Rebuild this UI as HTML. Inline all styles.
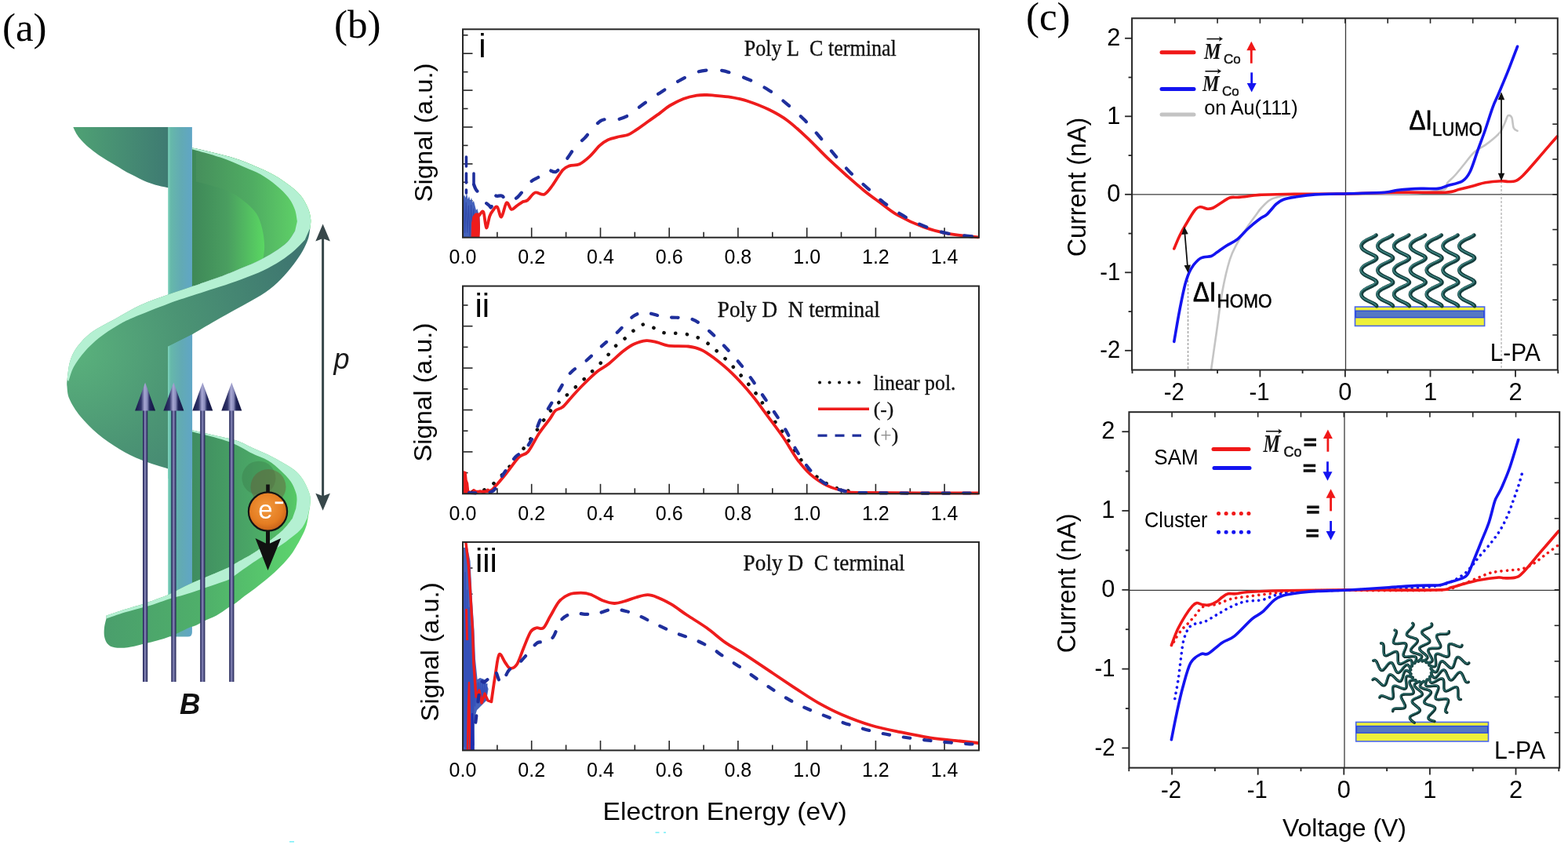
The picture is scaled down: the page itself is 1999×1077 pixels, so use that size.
<!DOCTYPE html><html><head><meta charset="utf-8"><title>Figure</title>
<style>html,body{margin:0;padding:0;background:#fff;}svg{display:block;}</style></head><body>
<svg width="1999" height="1077" viewBox="0 0 1999 1077">
<rect width="1999" height="1077" fill="#fff"/>
<defs>
<linearGradient id="gCap" x1="92" y1="0" x2="216" y2="0" gradientUnits="userSpaceOnUse">
  <stop offset="0" stop-color="#4fa274"/><stop offset="1" stop-color="#3e7a72"/></linearGradient>
<linearGradient id="gPole" x1="214" y1="0" x2="245" y2="0" gradientUnits="userSpaceOnUse">
  <stop offset="0" stop-color="#7cd4bc"/><stop offset="0.12" stop-color="#66b8aa"/>
  <stop offset="0.55" stop-color="#62aab4"/><stop offset="1" stop-color="#60a6c6"/></linearGradient>
<linearGradient id="gBowl1" x1="245" y1="0" x2="395" y2="0" gradientUnits="userSpaceOnUse">
  <stop offset="0" stop-color="#3e8858"/><stop offset="0.3" stop-color="#4a9e60"/>
  <stop offset="0.62" stop-color="#5ad862"/><stop offset="1" stop-color="#5ed466"/></linearGradient>
<linearGradient id="gBowl2" x1="245" y1="0" x2="395" y2="0" gradientUnits="userSpaceOnUse">
  <stop offset="0" stop-color="#3f8c60"/><stop offset="0.5" stop-color="#4aa666"/>
  <stop offset="0.85" stop-color="#55c466"/><stop offset="1" stop-color="#5cdc64"/></linearGradient>
<radialGradient id="gFront1" cx="95" cy="445" r="305" gradientUnits="userSpaceOnUse">
  <stop offset="0" stop-color="#5ab27c"/><stop offset="0.45" stop-color="#4b9474"/>
  <stop offset="1" stop-color="#3e7670"/></radialGradient>
<linearGradient id="gBowl1b" x1="250" y1="0" x2="392" y2="0" gradientUnits="userSpaceOnUse">
  <stop offset="0" stop-color="#468f5c"/><stop offset="0.5" stop-color="#4fac62"/><stop offset="1" stop-color="#62d868"/></linearGradient>
<linearGradient id="gLeft" x1="85" y1="440" x2="215" y2="600" gradientUnits="userSpaceOnUse">
  <stop offset="0" stop-color="#56ae78"/><stop offset="0.6" stop-color="#4a9272"/>
  <stop offset="1" stop-color="#3e7870"/></linearGradient>
<linearGradient id="gFront2" x1="130" y1="0" x2="395" y2="0" gradientUnits="userSpaceOnUse">
  <stop offset="0" stop-color="#4a9e6c"/><stop offset="0.5" stop-color="#4fb06a"/>
  <stop offset="1" stop-color="#5ed86e"/></linearGradient>
<radialGradient id="gE" cx="0.45" cy="0.4" r="0.6">
  <stop offset="0" stop-color="#f29a3e"/><stop offset="0.7" stop-color="#e57d22"/><stop offset="1" stop-color="#c8621a"/></radialGradient>
<linearGradient id="gB" x1="0" y1="0" x2="1" y2="0">
  <stop offset="0" stop-color="#1e1f50"/><stop offset="0.25" stop-color="#4a4c80"/><stop offset="0.45" stop-color="#8c8cbc"/>
  <stop offset="0.7" stop-color="#5a5c8e"/><stop offset="1" stop-color="#161846"/></linearGradient>
<linearGradient id="gBh" x1="0" y1="0" x2="1" y2="0">
  <stop offset="0" stop-color="#161848"/><stop offset="0.3" stop-color="#30346a"/><stop offset="0.47" stop-color="#a6a6d2"/>
  <stop offset="0.6" stop-color="#8a8cbc"/><stop offset="0.72" stop-color="#22265c"/><stop offset="1" stop-color="#12143e"/></linearGradient>
</defs>
<path d="M93.3,162.1 L216,162.1 L216,239.3 C215.5,239.2 215,239.3 212.8,238.9 C210.6,238.5 206,237.7 202.6,236.8 C199.2,236 195.8,235 192.4,233.8 C189,232.6 185.5,231.2 182.1,229.7 C178.7,228.2 175.3,226.3 171.9,224.6 C168.5,222.9 165.1,221.4 161.7,219.5 C158.3,217.6 154.9,215.4 151.5,213.3 C148.1,211.2 144.7,209.2 141.3,207.2 C137.9,205.2 134.5,203.3 131.1,201.1 C127.7,198.9 124.3,196.4 120.9,193.9 C117.5,191.4 113.5,188.4 110.6,185.8 C107.7,183.2 105.7,181.2 103.5,178.6 C101.3,176 99.1,173.2 97.4,170.4 C95.7,167.7 94,163.5 93.3,162.1 Z" fill="url(#gCap)"/>
<clipPath id="cpBowl1"><path d="M244.9,188.2 C249.2,189.2 261.2,191.9 270.6,194.3 C280,196.7 291.1,199.1 301.3,202.5 C311.5,205.9 323.4,210.9 331.9,214.7 C340.4,218.4 345.6,220.9 352.4,225 C359.2,229.1 367.4,234.9 372.8,239.3 C378.2,243.7 381.6,246.9 385,251.5 C388.4,256.1 391.3,262.1 393.2,266.8 C395.1,271.6 395.8,276.1 396.2,280 C396.6,283.9 395.5,288.7 395.4,290.4 L376.1,294.6 C374.5,296.9 370.8,304.1 366.4,308.5 C362,312.9 356.2,316.9 349.7,321.1 C343.2,325.3 335.5,329.7 327.4,333.6 C319.3,337.5 308.8,341.4 300.9,344.7 C293,347.9 289.3,349.7 280,353.1 C270.7,356.5 250.9,363.1 245.1,365.1 L244,365 Z"/></clipPath>
<path d="M244.9,188.2 C249.2,189.2 261.2,191.9 270.6,194.3 C280,196.7 291.1,199.1 301.3,202.5 C311.5,205.9 323.4,210.9 331.9,214.7 C340.4,218.4 345.6,220.9 352.4,225 C359.2,229.1 367.4,234.9 372.8,239.3 C378.2,243.7 381.6,246.9 385,251.5 C388.4,256.1 391.3,262.1 393.2,266.8 C395.1,271.6 395.8,276.1 396.2,280 C396.6,283.9 395.5,288.7 395.4,290.4 L376.1,294.6 C374.5,296.9 370.8,304.1 366.4,308.5 C362,312.9 356.2,316.9 349.7,321.1 C343.2,325.3 335.5,329.7 327.4,333.6 C319.3,337.5 308.8,341.4 300.9,344.7 C293,347.9 289.3,349.7 280,353.1 C270.7,356.5 250.9,363.1 245.1,365.1 L244,365 Z" fill="url(#gBowl1)"/>
<path clip-path="url(#cpBowl1)" d="M250,231.5 C252.6,232.2 258.6,233.4 265.5,235.4 C272.4,237.4 283.4,239.9 291.1,243.5 C298.8,247.1 305.6,252 311.5,256.8 C317.4,261.6 323,266.3 326.8,272.1 C330.6,277.9 332.6,285 334.3,291.8 C336,298.6 336.9,306.7 337.1,312.7 C337.3,318.7 336.4,323.1 335.7,328 C335,332.9 333.4,339.7 333,342 L400,342 L400,170 L250,170 Z" fill="url(#gBowl1b)"/>
<path d="M244.9,548.2 C249.2,549.2 261.2,552.1 270.6,554.3 C280,556.5 292.8,558.8 301.3,561.5 C309.8,564.2 314.9,567.7 321.7,570.7 C328.5,573.8 335.3,576.4 342.1,579.8 C348.9,583.2 356.6,587.5 362.6,591.1 C368.6,594.7 373.6,597.4 377.9,601.3 C382.1,605.2 385.2,609.5 388.1,614.6 C391,619.7 394.1,626.9 395.3,632 C396.5,637.1 395.2,642.8 395.2,645 L372.5,661.4 C370.5,663.8 365.4,671.1 360.4,675.9 C355.4,680.7 348.4,685.6 342.3,690.4 C336.2,695.2 331.1,699.9 324,704.5 C316.9,709.1 305.5,715 300,718.2 C294.5,721.4 301.1,719 291.1,723.5 C281.1,728 248.5,741.6 240,745.2 L244,750 Z" fill="url(#gBowl2)"/>
<path d="M214.2,162.1 L244.9,162.1 L244.9,806 Q244.9,811.5 239.5,811.5 L219.5,811.5 Q214.2,811.5 214.2,806 Z" fill="url(#gPole)"/>
<path d="M395.4,290.4 C395,292.7 394.5,299.4 392.9,304.3 C391.3,309.2 388.9,314.4 385.9,319.7 C382.9,325 379.3,330.4 374.7,336.4 C370.1,342.4 364,349.9 358,355.9 C352,361.9 345.7,367.5 338.5,372.6 C331.3,377.7 322.2,382.3 314.8,386.5 C307.4,390.7 301.4,393.8 293.9,398 C286.4,402.2 278.1,406.8 270,411.5 C261.9,416.2 249.2,423.8 245.1,426.2 L214.2,441.8 L214.2,597.5 L214.2,597.5 C208.5,595.6 190.6,590.5 180.3,586.3 C170,582.1 161.7,578 152.4,572.4 C143.1,566.8 132.9,559.9 124.6,552.9 C116.2,545.9 108.3,538 102.3,530.6 C96.3,523.2 91.2,514.7 88.4,508.3 C85.6,501.9 85.9,496.1 85.4,492 C84.9,487.9 85.6,485.3 85.6,484 L85.6,484 C86.2,480.1 87.1,467.4 89.3,460.4 C91.5,453.4 94,448 98.6,441.8 C103.2,435.6 109.4,428.9 117.1,423.2 C124.8,417.5 134.5,413.2 145,407.4 C155.5,401.6 168.5,393.8 180,388.5 C191.5,383.2 203.3,379.4 214.2,375.5 C225,371.6 234.1,368.8 245.1,365.1 C256.1,361.4 270.7,356.5 280,353.1 C289.3,349.7 293,347.9 300.9,344.7 C308.8,341.4 319.3,337.5 327.4,333.6 C335.5,329.7 343.2,325.3 349.7,321.1 C356.2,316.9 362,312.9 366.4,308.5 C370.8,304.1 374.5,296.9 376.1,294.6 Z" fill="url(#gFront1)"/>
<path d="M214.2,441.8 L245.1,426.2 L245.1,610 L214.2,610 Z" fill="url(#gPole)"/>
<path d="M244.9,188.2 C249.2,189.2 261.2,191.9 270.6,194.3 C280,196.7 291.1,199.1 301.3,202.5 C311.5,205.9 323.4,210.9 331.9,214.7 C340.4,218.4 345.6,220.9 352.4,225 C359.2,229.1 367.4,234.9 372.8,239.3 C378.2,243.7 381.6,246.9 385,251.5 C388.4,256.1 391.3,262.1 393.2,266.8 C395.1,271.6 395.8,276.1 396.2,280 C396.6,283.9 395.5,288.7 395.4,290.4 L388.7,305.7 C386.4,308 379.8,315.3 374.7,319.7 C369.6,324.1 364.5,328 358,332.2 C351.5,336.4 344.1,340.8 335.7,344.7 C327.3,348.6 317.2,352.4 307.9,355.9 C298.6,359.4 290.5,362.1 280,365.6 C269.5,369.1 256.1,373.2 245.1,376.8 C234.1,380.4 226.7,382.6 214.2,387.2 C201.7,391.8 180.8,400.1 170,404.7 C159.2,409.3 156.9,410.6 149.6,414.9 C142.3,419.2 133.3,425 126.4,430.6 C119.5,436.2 113.3,442.1 107.9,448.3 C102.5,454.5 97.3,461.5 93.9,467.8 C90.5,474.1 88.5,483 87.4,486 L85.6,484 C86.2,480.1 87.1,467.4 89.3,460.4 C91.5,453.4 94,448 98.6,441.8 C103.2,435.6 109.4,428.9 117.1,423.2 C124.8,417.5 134.5,413.2 145,407.4 C155.5,401.6 168.5,393.8 180,388.5 C191.5,383.2 203.3,379.4 214.2,375.5 C225,371.6 234.1,368.8 245.1,365.1 C256.1,361.4 270.7,356.5 280,353.1 C289.3,349.7 293,347.9 300.9,344.7 C308.8,341.4 319.3,337.5 327.4,333.6 C335.5,329.7 343.2,325.3 349.7,321.1 C356.2,316.9 362,312.9 366.4,308.5 C370.8,304.1 374.5,296.9 376.1,294.6 L378.9,282 C378.4,279.5 377.8,272.1 375.9,267 C374,261.9 371.6,256.8 367.7,251.7 C363.8,246.6 358.4,241.3 352.4,236.4 C346.4,231.5 338.7,226 331.9,222.1 C325.1,218.2 320,216.5 311.5,212.9 C303,209.3 292,204.4 280.9,200.6 C269.8,196.8 250.9,191.9 244.9,190.2 Z" fill="#b4f0d2"/>
<path d="M395.2,645 C394.8,647.2 393.8,653.9 393,658 C392.2,662.1 392,665.5 390.6,669.9 C389.2,674.3 387.5,678.5 384.5,684.3 C381.5,690.1 376.9,698.6 372.5,704.9 C368.1,711.1 363,716.6 358,721.8 C353,727 347.9,731.5 342.3,736.3 C336.7,741.1 329.2,746.9 324.2,750.8 C319.1,754.7 316,756.5 312,759.5 C308,762.5 303.5,766.5 300,769 C296.5,771.5 295,771.9 291,774.5 C287,777.1 281.2,781.7 276,784.5 C270.8,787.3 264.3,789.4 260,791.5 C255.7,793.6 253.3,795.5 250,797 C246.7,798.5 245.2,798.2 240,800.5 C234.8,802.8 225.5,807.8 218.8,810.5 C212.1,813.2 205.6,814.9 200,816.5 C194.4,818.1 191.2,818.8 185,820.2 C178.8,821.7 169.4,824.4 162.9,825.2 C156.4,826 150.2,825.9 146,825.2 C141.8,824.5 139.6,823.2 137.5,821 C135.4,818.8 133.9,815.5 133.2,812 C132.4,808.5 132.6,804 133,800 C133.4,796 135.2,790 135.6,788 L135.6,784.5 C139.5,783.2 150.8,779.3 159,776.7 C167.2,774.1 175.5,772.1 185,768.9 C194.5,765.6 207,761.2 216.2,757.2 C225.4,753.2 227.5,750.8 240,745.2 C252.5,739.6 281.1,728 291.1,723.5 C301.1,719 294.5,721.4 300,718.2 C305.5,715 316.9,709.1 324,704.5 C331.1,699.9 336.2,695.2 342.3,690.4 C348.4,685.6 355.4,680.7 360.4,675.9 C365.4,671.1 370.5,663.8 372.5,661.4 Z" fill="url(#gFront2)"/>
<path d="M244.9,548.2 C249.2,549.2 261.2,552.1 270.6,554.3 C280,556.5 292.8,558.8 301.3,561.5 C309.8,564.2 314.9,567.7 321.7,570.7 C328.5,573.8 335.3,576.4 342.1,579.8 C348.9,583.2 356.6,587.5 362.6,591.1 C368.6,594.7 373.6,597.4 377.9,601.3 C382.1,605.2 385.2,609.5 388.1,614.6 C391,619.7 394.1,626.9 395.3,632 C396.5,637.1 395.2,642.8 395.2,645 L391.8,660.2 C390.6,662.4 387.7,669.5 384.5,673.5 C381.3,677.5 377.5,680.3 372.5,684.3 C367.5,688.3 361.4,693 354.3,697.6 C347.2,702.2 339.2,706.2 330.2,712.1 C321.1,718 306.5,728.5 300,733 C293.5,737.5 301.1,735.1 291.1,739 C281.1,742.9 252.1,752.5 240,756.4 C227.9,760.3 227.5,759.7 218.8,762.4 C210.1,765.1 197.6,769.8 187.6,772.8 C177.6,775.8 167.6,778 159,780.6 C150.4,783.2 139.7,787.1 135.8,788.4 L135.6,784.5 L159,776.7 C163.3,775.4 175.5,772.1 185,768.9 C194.5,765.6 207,761.2 216.2,757.2 C225.4,753.2 227.5,750.8 240,745.2 C252.5,739.6 281.1,728 291.1,723.5 C301.1,719 294.5,721.4 300,718.2 C305.5,715 316.9,709.1 324,704.5 C331.1,699.9 336.2,695.2 342.3,690.4 C348.4,685.6 355.4,680.7 360.4,675.9 C365.4,671.1 370.5,663.8 372.5,661.4 L377.3,648 C377.5,646 378.6,639.5 378.5,636 C378.4,632.5 378.2,630.7 376.9,627 C375.6,623.3 373.9,618.4 370.7,613.8 C367.5,609.2 362.3,603.9 357.5,599.5 C352.7,595.1 348.1,590.8 342.1,587.2 C336.1,583.6 330.2,582.1 321.7,578 C313.2,573.9 303.9,567.3 291.1,562.7 C278.3,558.1 252.6,552.3 244.9,550.2 Z" fill="#b4f0d2"/>
<circle cx="329.9" cy="609.2" r="21.5" fill="#3a7a48" opacity="0.4"/>
<circle cx="342" cy="620.5" r="22.5" fill="#6a5a38" opacity="0.45"/>
<line x1="341.5" y1="617.5" x2="341.5" y2="628" stroke="#111" stroke-width="4.6"/>
<circle cx="341.5" cy="652" r="24.6" fill="url(#gE)" stroke="#141414" stroke-width="2.2"/>
<text x="329.3" y="661" font-family="'Liberation Sans', Arial, sans-serif" font-size="33" fill="#fff">e</text>
<rect x="350.6" y="639.4" width="10.5" height="2.8" fill="#fff"/>
<line x1="341.5" y1="676" x2="341.5" y2="694" stroke="#111" stroke-width="5"/>
<path d="M325.5,686 L341.5,693.7 L358.2,686 L341.5,727.1 Z" fill="#111"/>
<rect x="182" y="521" width="6.2" height="348" fill="url(#gB)"/>
<path d="M185.1,487.6 L172.1,523.6 L198.1,523.6 Z" fill="url(#gBh)"/>
<rect x="218.3" y="521" width="6.2" height="348" fill="url(#gB)"/>
<path d="M221.4,487.6 L208.4,523.6 L234.4,523.6 Z" fill="url(#gBh)"/>
<rect x="255.2" y="521" width="6.2" height="348" fill="url(#gB)"/>
<path d="M258.3,487.6 L245.3,523.6 L271.3,523.6 Z" fill="url(#gBh)"/>
<rect x="292.2" y="521" width="6.2" height="348" fill="url(#gB)"/>
<path d="M295.3,487.6 L282.3,523.6 L308.3,523.6 Z" fill="url(#gBh)"/>
<text x="229" y="909.5" font-family="'Liberation Sans', Arial, sans-serif" font-size="36.5" font-weight="bold" font-style="italic" fill="#111">B</text>
<line x1="411.6" y1="300" x2="411.6" y2="636" stroke="#37474a" stroke-width="3"/>
<path d="M411.6,285.6 L402.3,307.5 L411.6,304 L420.9,307.5 Z" fill="#37474a"/>
<path d="M411.6,650.7 L402.3,628.8 L411.6,632.3 L420.9,628.8 Z" fill="#37474a"/>
<text x="425.5" y="469.5" font-family="'Liberation Sans', Arial, sans-serif" font-size="36" font-style="italic" fill="#1a1a1a">p</text>
<text x="3" y="51.8" font-family="'Liberation Serif', 'Times New Roman', serif" font-size="51" text-anchor="start" >(a)</text>
<line x1="633.9" y1="302.7" x2="633.9" y2="295.7" stroke="#262626" stroke-width="1.6"/>
<line x1="677.7" y1="302.7" x2="677.7" y2="290.2" stroke="#262626" stroke-width="1.6"/>
<line x1="721.6" y1="302.7" x2="721.6" y2="295.7" stroke="#262626" stroke-width="1.6"/>
<line x1="765.5" y1="302.7" x2="765.5" y2="290.2" stroke="#262626" stroke-width="1.6"/>
<line x1="809.3" y1="302.7" x2="809.3" y2="295.7" stroke="#262626" stroke-width="1.6"/>
<line x1="853.2" y1="302.7" x2="853.2" y2="290.2" stroke="#262626" stroke-width="1.6"/>
<line x1="897.1" y1="302.7" x2="897.1" y2="295.7" stroke="#262626" stroke-width="1.6"/>
<line x1="940.9" y1="302.7" x2="940.9" y2="290.2" stroke="#262626" stroke-width="1.6"/>
<line x1="984.8" y1="302.7" x2="984.8" y2="295.7" stroke="#262626" stroke-width="1.6"/>
<line x1="1028.7" y1="302.7" x2="1028.7" y2="290.2" stroke="#262626" stroke-width="1.6"/>
<line x1="1072.5" y1="302.7" x2="1072.5" y2="295.7" stroke="#262626" stroke-width="1.6"/>
<line x1="1116.4" y1="302.7" x2="1116.4" y2="290.2" stroke="#262626" stroke-width="1.6"/>
<line x1="1160.3" y1="302.7" x2="1160.3" y2="295.7" stroke="#262626" stroke-width="1.6"/>
<line x1="1204.1" y1="302.7" x2="1204.1" y2="290.2" stroke="#262626" stroke-width="1.6"/>
<line x1="590" y1="255.8" x2="602.5" y2="255.8" stroke="#262626" stroke-width="1.6"/>
<line x1="590" y1="208.9" x2="602.5" y2="208.9" stroke="#262626" stroke-width="1.6"/>
<line x1="590" y1="162" x2="602.5" y2="162" stroke="#262626" stroke-width="1.6"/>
<line x1="590" y1="115.1" x2="602.5" y2="115.1" stroke="#262626" stroke-width="1.6"/>
<line x1="590" y1="68.2" x2="602.5" y2="68.2" stroke="#262626" stroke-width="1.6"/>
<line x1="590" y1="279.2" x2="596.5" y2="279.2" stroke="#262626" stroke-width="1.6"/>
<line x1="590" y1="232.3" x2="596.5" y2="232.3" stroke="#262626" stroke-width="1.6"/>
<line x1="590" y1="185.4" x2="596.5" y2="185.4" stroke="#262626" stroke-width="1.6"/>
<line x1="590" y1="138.5" x2="596.5" y2="138.5" stroke="#262626" stroke-width="1.6"/>
<line x1="590" y1="91.7" x2="596.5" y2="91.7" stroke="#262626" stroke-width="1.6"/>
<line x1="590" y1="44.8" x2="596.5" y2="44.8" stroke="#262626" stroke-width="1.6"/>
<text x="590" y="336.1" font-family="'Liberation Sans', Arial, sans-serif" font-size="25" text-anchor="middle" >0.0</text>
<text x="677.7" y="336.1" font-family="'Liberation Sans', Arial, sans-serif" font-size="25" text-anchor="middle" >0.2</text>
<text x="765.5" y="336.1" font-family="'Liberation Sans', Arial, sans-serif" font-size="25" text-anchor="middle" >0.4</text>
<text x="853.2" y="336.1" font-family="'Liberation Sans', Arial, sans-serif" font-size="25" text-anchor="middle" >0.6</text>
<text x="940.9" y="336.1" font-family="'Liberation Sans', Arial, sans-serif" font-size="25" text-anchor="middle" >0.8</text>
<text x="1028.7" y="336.1" font-family="'Liberation Sans', Arial, sans-serif" font-size="25" text-anchor="middle" >1.0</text>
<text x="1116.4" y="336.1" font-family="'Liberation Sans', Arial, sans-serif" font-size="25" text-anchor="middle" >1.2</text>
<text x="1204.1" y="336.1" font-family="'Liberation Sans', Arial, sans-serif" font-size="25" text-anchor="middle" >1.4</text>
<text transform="translate(550.5,257.5) rotate(-90)" x="0" y="0" font-family="'Liberation Sans', Arial, sans-serif" font-size="31.5" textLength="177" lengthAdjust="spacingAndGlyphs">Signal (a.u.)</text>
<path d="M590.5,302 L590.5,252 L592,248 L593.5,252 L595,246 L596.5,254 L598,250 L599.5,256 L601,252 L602.5,258 L604,256 L605.5,262 L607,268 L608.5,266 L610,272 L611.5,276 L612,290 L611,302" fill="#4462bc" stroke="none"/>
<path d="M591,254.3 L592.6,296.6 L594.2,258 L595.8,296.2 L597.4,262.4 L599,300.5 L600.6,261.6 L602.2,294.3 L603.8,266 L605.4,299.1 L607,273.3 L608.6,297.2" fill="none" stroke="#2f47a8" stroke-width="1.2" stroke-linejoin="round" opacity="0.8"/>
<path d="M594.4,200 L594.4,246" fill="none" stroke="#1f2f9c" stroke-width="3.6" stroke-dasharray="12 9" stroke-linecap="round"/>
<path d="M604,221 L604,236" fill="none" stroke="#1f2f9c" stroke-width="3.6" stroke-dasharray="12 8" stroke-linecap="round"/>
<path d="M601,302 L601.5,285 L603,276 L606,272 L610.6,272 L611.5,290 L611,302" fill="#ee1c1c" stroke="#ee1c1c" stroke-width="1" stroke-linejoin="round"/>
<path d="M611,274.4 C611.9,273.7 614.8,267.4 616.3,270.1 C617.8,272.8 618.7,289.5 620,290.4 C621.3,291.3 622.9,279.2 624.3,275.5 C625.7,271.8 627,270 628.6,268 C630.2,266 632.1,262.3 633.9,263.7 C635.7,265.1 637.3,277.4 639.3,276.5 C641.3,275.6 643.6,260 645.7,258.4 C647.8,256.8 650,266.2 652.1,266.9 C654.2,267.6 656.1,264.2 658.5,262.6 C660.9,261 663.9,258.6 666.2,257.3 C668.6,256.1 669.9,257.1 672.6,255.1 C675.3,253.1 678.7,246.7 682.2,245.5 C685.8,244.3 690.2,249.3 693.9,247.7 C697.6,246.1 700.7,241.1 704.6,235.9 C708.5,230.7 713.8,220.8 717.4,216.7 C721,212.6 722.4,212.7 726,211.4 C729.6,210.2 734.5,211.2 738.8,209.2 C743.1,207.2 747.3,203.5 751.6,199.6 C755.9,195.7 760.5,189.3 764.4,185.7 C768.3,182.1 770.8,180.1 775.1,178.2 C779.4,176.2 785.7,175.1 790,174 C794.3,172.9 797.1,173.2 800.7,171.8 C804.3,170.4 807.1,168.2 811.4,165.4 C815.7,162.6 821.3,158.4 826.3,154.8 C831.3,151.2 836.7,147.5 841.3,144.1 C845.9,140.7 849.1,137.5 854.1,134.5 C859.1,131.5 865.5,128.1 871.2,125.9 C876.9,123.8 883.3,122.4 888.3,121.6 C893.3,120.8 897.5,121 901.1,121 C904.7,121 905,121.1 910,121.6 C915,122.1 924.3,122.6 931.4,123.8 C938.5,125 944.5,126 952.7,128.7 C960.9,131.4 972,135.6 980.5,139.8 C989,144 995.8,147.6 1004,153.7 C1012.2,159.8 1021.1,168.1 1029.6,176.1 C1038.1,184.1 1046.7,193.5 1055.2,201.7 C1063.8,209.9 1073.1,218.2 1080.9,225.2 C1088.7,232.1 1095.1,237.7 1102.2,243.4 C1109.3,249.1 1116.5,254.2 1123.6,259.4 C1130.7,264.6 1136,269.4 1144.9,274.4 C1153.8,279.4 1166.3,285.4 1177,289.3 C1187.7,293.2 1197.3,295.7 1209,297.9 C1220.7,300.1 1240.7,301.6 1247,302.3" fill="none" stroke="#ee1c1c" stroke-width="3.8" stroke-linejoin="round" stroke-linecap="round"/>
<path d="M604,234.9 C604.5,236 605.1,238.8 606.7,241.3 C608.3,243.8 612.1,247.5 613.6,249.8 C615.1,252.1 614.2,253.2 615.8,255.2 C617.4,257.2 621.5,260.2 623.3,261.6 C625.1,263 625.4,266 626.5,263.7 C627.6,261.4 628.6,250 629.7,247.7 C630.8,245.4 631.1,249.5 632.9,249.8 C634.7,250.2 638.3,248.7 640.4,249.8 C642.5,250.9 642.9,255.7 645.7,256.2 C648.5,256.7 654.2,254.8 657.4,253 C660.6,251.2 661.7,249.2 664.9,245.6 C668.1,242 673,235 676.8,231.6 C680.6,228.2 683.9,227.7 687.5,225.2 C691.1,222.7 694.6,217.8 698.2,216.7 C701.8,215.6 705,220.9 708.9,218.8 C712.8,216.7 717.4,209.4 721.7,203.9 C726,198.4 730.6,190.3 734.5,185.7 C738.4,181.1 741.6,179.8 745.2,176.1 C748.8,172.4 752.4,167 755.9,163.3 C759.4,159.6 763,155.6 766.5,153.7 C770,151.8 774,151.8 777.2,151.6 C780.4,151.4 782.2,153.1 785.8,152.6 C789.4,152.1 794.7,150.2 798.6,148.3 C802.5,146.4 805.4,143.7 809.3,140.9 C813.2,138.1 816.8,135.1 822.1,131.3 C827.4,127.6 834.2,123 841.3,118.4 C848.4,113.8 857.3,107.8 864.8,103.5 C872.3,99.2 880.2,95.1 886.2,92.8 C892.2,90.5 895.8,90.1 901.1,89.6 C906.4,89.1 913.2,89.1 918.2,89.6 C923.2,90.1 924.9,90.7 931.4,92.8 C937.9,94.9 948.8,98.7 957,102.4 C965.2,106.1 973,110.4 980.5,115.2 C988,120 994.3,125.1 1001.8,131.3 C1009.3,137.5 1018.2,145.5 1025.3,152.6 C1032.4,159.7 1037.8,166.2 1044.6,174 C1051.4,181.8 1059.2,191.8 1065.9,199.6 C1072.7,207.4 1078.3,214.2 1085.1,221 C1091.9,227.8 1099.7,234.1 1106.5,240.2 C1113.3,246.2 1118.9,252 1125.7,257.3 C1132.5,262.6 1139.6,267.6 1147.1,272.2 C1154.6,276.8 1161,280.9 1170.6,285 C1180.2,289.1 1192,293.9 1204.7,296.8 C1217.4,299.7 1240,301.4 1247,302.3" fill="none" stroke="#1f2f9c" stroke-width="4.2" stroke-linejoin="round" stroke-linecap="round" stroke-dasharray="10 19.5"/>
<rect x="590" y="37.3" width="658" height="265.4" fill="none" stroke="#262626" stroke-width="2"/>
<text x="948.8" y="71.2" font-family="'Liberation Serif', 'Times New Roman', serif" font-size="28.5" text-anchor="start" textLength="194" lengthAdjust="spacingAndGlyphs" fill="#111" stroke="#111" stroke-width="0.35">Poly L&#160;&#160;C terminal</text>
<text x="610.2" y="73.2" font-family="'Liberation Sans', Arial, sans-serif" font-size="42" text-anchor="start" fill="#000">i</text>
<line x1="633.9" y1="629.3" x2="633.9" y2="622.3" stroke="#262626" stroke-width="1.6"/>
<line x1="677.7" y1="629.3" x2="677.7" y2="616.8" stroke="#262626" stroke-width="1.6"/>
<line x1="721.6" y1="629.3" x2="721.6" y2="622.3" stroke="#262626" stroke-width="1.6"/>
<line x1="765.5" y1="629.3" x2="765.5" y2="616.8" stroke="#262626" stroke-width="1.6"/>
<line x1="809.3" y1="629.3" x2="809.3" y2="622.3" stroke="#262626" stroke-width="1.6"/>
<line x1="853.2" y1="629.3" x2="853.2" y2="616.8" stroke="#262626" stroke-width="1.6"/>
<line x1="897.1" y1="629.3" x2="897.1" y2="622.3" stroke="#262626" stroke-width="1.6"/>
<line x1="940.9" y1="629.3" x2="940.9" y2="616.8" stroke="#262626" stroke-width="1.6"/>
<line x1="984.8" y1="629.3" x2="984.8" y2="622.3" stroke="#262626" stroke-width="1.6"/>
<line x1="1028.7" y1="629.3" x2="1028.7" y2="616.8" stroke="#262626" stroke-width="1.6"/>
<line x1="1072.5" y1="629.3" x2="1072.5" y2="622.3" stroke="#262626" stroke-width="1.6"/>
<line x1="1116.4" y1="629.3" x2="1116.4" y2="616.8" stroke="#262626" stroke-width="1.6"/>
<line x1="1160.3" y1="629.3" x2="1160.3" y2="622.3" stroke="#262626" stroke-width="1.6"/>
<line x1="1204.1" y1="629.3" x2="1204.1" y2="616.8" stroke="#262626" stroke-width="1.6"/>
<line x1="590" y1="575.9" x2="602.5" y2="575.9" stroke="#262626" stroke-width="1.6"/>
<line x1="590" y1="522.5" x2="602.5" y2="522.5" stroke="#262626" stroke-width="1.6"/>
<line x1="590" y1="469.1" x2="602.5" y2="469.1" stroke="#262626" stroke-width="1.6"/>
<line x1="590" y1="415.7" x2="602.5" y2="415.7" stroke="#262626" stroke-width="1.6"/>
<line x1="590" y1="602.6" x2="596.5" y2="602.6" stroke="#262626" stroke-width="1.6"/>
<line x1="590" y1="549.2" x2="596.5" y2="549.2" stroke="#262626" stroke-width="1.6"/>
<line x1="590" y1="495.8" x2="596.5" y2="495.8" stroke="#262626" stroke-width="1.6"/>
<line x1="590" y1="442.4" x2="596.5" y2="442.4" stroke="#262626" stroke-width="1.6"/>
<line x1="590" y1="389" x2="596.5" y2="389" stroke="#262626" stroke-width="1.6"/>
<text x="590" y="662.7" font-family="'Liberation Sans', Arial, sans-serif" font-size="25" text-anchor="middle" >0.0</text>
<text x="677.7" y="662.7" font-family="'Liberation Sans', Arial, sans-serif" font-size="25" text-anchor="middle" >0.2</text>
<text x="765.5" y="662.7" font-family="'Liberation Sans', Arial, sans-serif" font-size="25" text-anchor="middle" >0.4</text>
<text x="853.2" y="662.7" font-family="'Liberation Sans', Arial, sans-serif" font-size="25" text-anchor="middle" >0.6</text>
<text x="940.9" y="662.7" font-family="'Liberation Sans', Arial, sans-serif" font-size="25" text-anchor="middle" >0.8</text>
<text x="1028.7" y="662.7" font-family="'Liberation Sans', Arial, sans-serif" font-size="25" text-anchor="middle" >1.0</text>
<text x="1116.4" y="662.7" font-family="'Liberation Sans', Arial, sans-serif" font-size="25" text-anchor="middle" >1.2</text>
<text x="1204.1" y="662.7" font-family="'Liberation Sans', Arial, sans-serif" font-size="25" text-anchor="middle" >1.4</text>
<text transform="translate(550.2,588.6) rotate(-90)" x="0" y="0" font-family="'Liberation Sans', Arial, sans-serif" font-size="31.5" textLength="177" lengthAdjust="spacingAndGlyphs">Signal (a.u.)</text>
<path d="M591,629 L591.5,601 L594,602 L595,612 L596.5,616 L597.5,626 L599,629" fill="#ee1c1c" stroke="#ee1c1c" stroke-width="1.5" stroke-linejoin="round"/>
<path d="M596,626 L600,627.5 L604,624.5 L608,627.5 L612,626 L617,628 L622,624 L626,628" fill="none" stroke="#ee1c1c" stroke-width="3" stroke-linejoin="round"/>
<path d="M603,627 C606.2,626.2 615.1,626.6 622.1,622.1 C629.1,617.6 637.9,607.9 645,600 C652.1,592.1 658.4,583.7 665,575 C671.6,566.3 678.8,556.2 684.8,547.8 C690.8,539.4 696,530.8 701,524.6 C706,518.4 711.2,514.4 715,510.7 C718.8,507 718.4,507.6 723.7,502.6 C729.1,497.6 739.2,488.5 747.1,480.9 C755,473.3 765.3,463.4 771.2,457.1 C777.1,450.9 778.1,447.6 782.3,443.4 C786.5,439.2 792,435.5 796.2,431.8 C800.5,428.1 803.5,424.4 807.8,421.3 C812,418.2 817.1,413.6 821.7,413.2 C826.3,412.8 831.4,417.1 835.6,419 C839.9,420.9 842.9,423.3 847.2,424.3 C851.5,425.3 856.6,424.5 861.2,424.8 C865.9,425.1 870.9,425.3 875.1,426 C879.4,426.7 882.5,427.3 886.7,429 C891,430.7 896,433.2 900.6,436.4 C905.2,439.6 908.9,442.9 914.5,448 C920.1,453.1 926,458.1 934.1,466.9 C942.2,475.7 955.1,490.2 963.1,500.7 C971.1,511.2 976,520.4 982.4,529.7 C988.8,539 995.8,547.4 1001.8,556.3 C1007.8,565.2 1012.3,574.4 1018.7,582.9 C1025.1,591.4 1032.8,600.6 1040.4,607 C1048.1,613.4 1056.3,618.2 1064.6,621.5 C1072.9,624.8 1085.8,626.1 1090,627" fill="none" stroke="#111" stroke-width="4.6" stroke-linejoin="round" stroke-linecap="round" stroke-dasharray="0.1 14.6"/>
<path d="M603.6,626.7 C607.1,626.5 619.9,626.8 624.5,625.6 C629.1,624.5 627.9,623.5 631.4,619.8 C634.9,616.1 640.3,609.7 645.3,603.5 C650.3,597.3 657,587.2 661.6,582.6 C666.2,578 669,580.7 673.2,575.7 C677.5,570.7 682.5,559.5 687.1,552.5 C691.7,545.5 697.5,538.8 701,533.9 C704.5,529 705.3,525.9 708,523.4 C710.7,520.9 713.8,521.7 717.3,518.8 C720.8,515.9 724.6,510.6 728.9,506 C733.1,501.4 737.4,496.4 742.8,491 C748.2,485.6 756,477.9 761.4,473.5 C766.8,469.1 769.9,468.6 775.3,464.3 C780.7,460.1 788.5,452.3 793.9,448 C799.3,443.7 802.8,441 807.8,438.7 C812.8,436.4 819,434.5 824,434.1 C829,433.7 833.4,435.3 838,436.4 C842.6,437.5 845.3,439.8 851.9,440.6 C858.5,441.5 870.4,440.6 877.4,441.5 C884.4,442.4 888.3,443.3 893.7,445.7 C899.1,448.1 903.2,451 909.9,456.1 C916.6,461.2 926,468.8 934.1,476.6 C942.2,484.5 950.6,493.9 958.3,503.2 C965.9,512.5 973.1,522.9 980,532.1 C986.9,541.4 993.4,549.8 999.4,558.7 C1005.4,567.6 1010.7,577.6 1016.3,585.3 C1021.9,592.9 1026.8,599 1033.2,604.6 C1039.6,610.2 1047.3,615.5 1054.9,619.1 C1062.5,622.7 1071,624.8 1079,626.3 C1087,627.8 1075.2,627.6 1103.2,628 C1131.2,628.4 1223,628.4 1247,628.5" fill="none" stroke="#ee1c1c" stroke-width="3.8" stroke-linejoin="round" stroke-linecap="round"/>
<path d="M598,628 C602.8,627.8 619.7,630.4 626.8,626.7 C633.9,623 635.7,613.1 640.7,605.8 C645.7,598.4 652.3,587.8 656.9,582.6 C661.5,577.4 664.6,579 668.5,574.5 C672.4,570 676.6,562.7 680.1,555.9 C683.6,549.1 686.3,539.7 689.4,533.9 C692.5,528.1 694.8,527.1 698.7,521.1 C702.6,515.1 708,505.4 712.6,497.9 C717.2,490.4 720.8,482.3 726.6,475.9 C732.4,469.5 740.9,465.2 747.5,459.6 C754.1,454 759.4,448.2 766,442.2 C772.6,436.2 779.9,430.3 786.9,423.7 C793.9,417.1 801.6,406.9 807.8,402.8 C814,398.7 817.4,398.6 824,398.8 C830.6,399 837.9,402.7 847.2,403.9 C856.5,405.1 871.6,404.3 879.7,406.2 C887.8,408.1 890.2,411.2 896,415.5 C901.8,419.8 906.1,423.2 914.5,431.8 C922.9,440.4 936.1,454.2 946.2,466.9 C956.3,479.6 966.3,495.1 975.2,508 C984.1,520.9 992.5,532.9 999.4,544.2 C1006.2,555.5 1010.3,565.9 1016.3,575.6 C1022.3,585.3 1029.2,595.2 1035.6,602.2 C1042,609.2 1047.7,613.9 1054.9,617.9 C1062.1,621.9 1069.8,624.6 1079,626.3 C1088.2,628 1082,627.9 1110,628.3 C1138,628.7 1224.2,628.5 1247,628.5" fill="none" stroke="#1f2f9c" stroke-width="4.2" stroke-linejoin="round" stroke-linecap="round" stroke-dasharray="8.5 18"/>
<rect x="590" y="364.6" width="658" height="264.7" fill="none" stroke="#262626" stroke-width="2"/>
<text x="914.8" y="403.5" font-family="'Liberation Serif', 'Times New Roman', serif" font-size="28.5" text-anchor="start" textLength="207" lengthAdjust="spacingAndGlyphs" fill="#111" stroke="#111" stroke-width="0.35">Poly D&#160;&#160;N terminal</text>
<text x="605.4" y="404.2" font-family="'Liberation Sans', Arial, sans-serif" font-size="42" text-anchor="start" fill="#000">ii</text>
<line x1="1045" y1="487.5" x2="1101" y2="487.5" stroke="#111" stroke-width="4" stroke-linecap="round" stroke-dasharray="0.1 12.4"/>
<line x1="1043" y1="521.3" x2="1108" y2="521.3" stroke="#ee1c1c" stroke-width="3.6"/>
<line x1="1042.5" y1="555.1" x2="1098" y2="555.1" stroke="#1f2f9c" stroke-width="3.2" stroke-dasharray="12 10"/>
<text x="1113.6" y="496.8" font-family="'Liberation Serif', 'Times New Roman', serif" font-size="28" text-anchor="start" textLength="105" lengthAdjust="spacingAndGlyphs" fill="#111" stroke="#111" stroke-width="0.35">linear pol.</text>
<text x="1113.8" y="530.2" font-family="'Liberation Serif', 'Times New Roman', serif" font-size="25.5" text-anchor="start" fill="#111" stroke="#111" stroke-width="0.35">(-)</text>
<text x="1113.8" y="563.4" font-family="'Liberation Serif', 'Times New Roman', serif" font-size="25.5" text-anchor="start" fill="#111" stroke="#111" stroke-width="0.35">(<tspan fill="#8a8a8a" stroke="none">+</tspan>)</text>
<line x1="633.9" y1="956.4" x2="633.9" y2="949.4" stroke="#262626" stroke-width="1.6"/>
<line x1="677.7" y1="956.4" x2="677.7" y2="943.9" stroke="#262626" stroke-width="1.6"/>
<line x1="721.6" y1="956.4" x2="721.6" y2="949.4" stroke="#262626" stroke-width="1.6"/>
<line x1="765.5" y1="956.4" x2="765.5" y2="943.9" stroke="#262626" stroke-width="1.6"/>
<line x1="809.3" y1="956.4" x2="809.3" y2="949.4" stroke="#262626" stroke-width="1.6"/>
<line x1="853.2" y1="956.4" x2="853.2" y2="943.9" stroke="#262626" stroke-width="1.6"/>
<line x1="897.1" y1="956.4" x2="897.1" y2="949.4" stroke="#262626" stroke-width="1.6"/>
<line x1="940.9" y1="956.4" x2="940.9" y2="943.9" stroke="#262626" stroke-width="1.6"/>
<line x1="984.8" y1="956.4" x2="984.8" y2="949.4" stroke="#262626" stroke-width="1.6"/>
<line x1="1028.7" y1="956.4" x2="1028.7" y2="943.9" stroke="#262626" stroke-width="1.6"/>
<line x1="1072.5" y1="956.4" x2="1072.5" y2="949.4" stroke="#262626" stroke-width="1.6"/>
<line x1="1116.4" y1="956.4" x2="1116.4" y2="943.9" stroke="#262626" stroke-width="1.6"/>
<line x1="1160.3" y1="956.4" x2="1160.3" y2="949.4" stroke="#262626" stroke-width="1.6"/>
<line x1="1204.1" y1="956.4" x2="1204.1" y2="943.9" stroke="#262626" stroke-width="1.6"/>
<line x1="590" y1="923.2" x2="602.5" y2="923.2" stroke="#262626" stroke-width="1.6"/>
<line x1="590" y1="890" x2="602.5" y2="890" stroke="#262626" stroke-width="1.6"/>
<line x1="590" y1="856.8" x2="602.5" y2="856.8" stroke="#262626" stroke-width="1.6"/>
<line x1="590" y1="823.6" x2="602.5" y2="823.6" stroke="#262626" stroke-width="1.6"/>
<line x1="590" y1="790.4" x2="602.5" y2="790.4" stroke="#262626" stroke-width="1.6"/>
<line x1="590" y1="757.2" x2="602.5" y2="757.2" stroke="#262626" stroke-width="1.6"/>
<line x1="590" y1="724" x2="602.5" y2="724" stroke="#262626" stroke-width="1.6"/>
<text x="590" y="989.8" font-family="'Liberation Sans', Arial, sans-serif" font-size="25" text-anchor="middle" >0.0</text>
<text x="677.7" y="989.8" font-family="'Liberation Sans', Arial, sans-serif" font-size="25" text-anchor="middle" >0.2</text>
<text x="765.5" y="989.8" font-family="'Liberation Sans', Arial, sans-serif" font-size="25" text-anchor="middle" >0.4</text>
<text x="853.2" y="989.8" font-family="'Liberation Sans', Arial, sans-serif" font-size="25" text-anchor="middle" >0.6</text>
<text x="940.9" y="989.8" font-family="'Liberation Sans', Arial, sans-serif" font-size="25" text-anchor="middle" >0.8</text>
<text x="1028.7" y="989.8" font-family="'Liberation Sans', Arial, sans-serif" font-size="25" text-anchor="middle" >1.0</text>
<text x="1116.4" y="989.8" font-family="'Liberation Sans', Arial, sans-serif" font-size="25" text-anchor="middle" >1.2</text>
<text x="1204.1" y="989.8" font-family="'Liberation Sans', Arial, sans-serif" font-size="25" text-anchor="middle" >1.4</text>
<text transform="translate(559.4,919.4) rotate(-90)" x="0" y="0" font-family="'Liberation Sans', Arial, sans-serif" font-size="31.5" textLength="177" lengthAdjust="spacingAndGlyphs">Signal (a.u.)</text>
<path d="M590.5,698 L596,698 L599.5,715 L602,765 L604.5,803 L606,840 L608.6,866 L612,864 L617.6,866 L622.6,878 L620,893 L613,900 L608,905 L605,915.6 L604.5,956 L590.5,956" fill="#4462bc" stroke="none"/>
<path d="M590.8,707.9 L592,951.2 L593.2,729.5 L594.4,953.8 L595.6,752.3 L596.8,948.1 L598,774.4 L599.2,949.1 L600.4,798.1 L601.6,954.5 L602.8,821.4 L604,950.3" fill="none" stroke="#3550b8" stroke-width="1.5" stroke-linejoin="round"/>
<path d="M604,867.8 L605.4,899.8 L606.8,871.2 L608.2,896.2 L609.6,870.3 L611,893 L612.4,870.3 L613.8,892.6 L615.2,868.4 L616.6,893.6 L618,868.7 L619.4,892.5 L620.8,871.3" fill="none" stroke="#3550b8" stroke-width="1.5" stroke-linejoin="round"/>
<path d="M593.8,690.5 L595.5,705 L597.5,722 L599,745 L600.5,770 L602.5,803 L603.8,845 L605.5,868 L607,888 L611,880 L614,896 L618,884 L622,893 L626.4,894.4" fill="none" stroke="#ee1c1c" stroke-width="3.4" stroke-linejoin="round"/>
<path d="M594.5,776 L595.5,816" fill="none" stroke="#ee1c1c" stroke-width="3" stroke-linejoin="round"/>
<path d="M596,956 L597,900 L598,870 L599.5,956" fill="none" stroke="#ee1c1c" stroke-width="2.6" stroke-linejoin="round"/>
<path d="M601,956 L602,910 L603.5,956" fill="none" stroke="#1e2fb0" stroke-width="2.6" stroke-linejoin="round"/>
<path d="M626.4,894.4 C627.2,888.8 629.7,870.5 631.4,860.5 C633.1,850.5 634.3,836.9 636.4,834.2 C638.5,831.5 641.6,841.3 643.9,844.2 C646.2,847.1 647.7,851.3 650.2,851.7 C652.7,852.1 656.1,851.1 659,846.7 C661.9,842.3 664.8,832.3 667.7,825.4 C670.6,818.5 673.8,809.5 676.5,805.3 C679.2,801.1 681.3,801.1 684,800.3 C686.7,799.5 689.9,802.8 692.8,800.3 C695.7,797.8 698.2,790.9 701.6,785.3 C705,779.7 708.9,771.1 712.9,766.5 C716.9,761.9 720.8,759.5 725.4,757.7 C730,755.9 735.9,755.7 740.5,755.7 C745.1,755.7 748.4,756.1 753,757.7 C757.6,759.3 763,763.3 768,765.2 C773,767.1 778.5,768.8 783.1,769 C787.7,769.2 791,767.8 795.6,766.5 C800.2,765.2 805.7,762.9 810.7,761.5 C815.7,760.1 821.1,758.2 825.7,758.2 C830.3,758.2 833.3,759.5 838.3,761.5 C843.3,763.5 849.5,766.5 855.8,770.2 C862.1,774 868.4,779 875.9,784 C883.4,789 892.8,794.4 901,800.3 C909.2,806.1 917.2,813.7 925,819.1 C932.8,824.5 937.6,826.4 947.6,832.9 C957.6,839.4 973.9,850.5 985.2,858 C996.5,865.5 1005.7,871.8 1015.3,878.1 C1024.9,884.4 1033.3,890.2 1042.9,895.6 C1052.5,901 1061.7,905.9 1073,910.7 C1084.3,915.5 1098.1,920.8 1110.6,924.5 C1123.1,928.2 1135.7,930.6 1148.2,933.2 C1160.7,935.8 1173.3,938.4 1185.8,940.3 C1198.3,942.2 1213.2,943.4 1223.4,944.5 C1233.6,945.6 1243.1,946.6 1247,947" fill="none" stroke="#ee1c1c" stroke-width="3.8" stroke-linejoin="round" stroke-linecap="round"/>
<path d="M606.3,920.7 C607.3,912.8 610.7,881.6 612.6,873 C614.5,864.4 615.5,871 617.6,869.3 C619.7,867.6 622.8,865.3 625.1,863 C627.4,860.7 629.1,854.2 631.4,855.5 C633.7,856.8 636,870.7 638.9,870.5 C641.8,870.3 645.3,858.2 648.9,854.2 C652.5,850.2 656.2,850.2 660.2,846.7 C664.2,843.2 668.6,837.5 672.8,832.9 C677,828.3 681.5,821.4 685.3,819.1 C689,816.8 691.9,820.4 695.3,819.1 C698.6,817.9 702,816.4 705.4,811.6 C708.8,806.8 711.2,795.3 715.4,790.3 C719.6,785.3 725.4,782.8 730.4,781.5 C735.4,780.2 740.5,782.7 745.5,782.8 C750.5,782.9 754.6,783.3 760.5,782.3 C766.4,781.2 774.3,777 780.6,776.5 C786.9,776 792.2,777.5 798.1,779 C804,780.5 809.4,782.6 815.7,785.3 C822,788 828.3,791.8 835.8,795.3 C843.3,798.8 852.4,803.2 860.8,806.6 C869.1,810 877.9,812 885.9,815.4 C893.9,818.8 903,823.6 908.5,826.7 C914,829.8 912.3,829.8 918.8,834.2 C925.3,838.6 937.4,846.1 947.6,853 C957.8,859.9 968.9,868.3 980.2,875.6 C991.5,882.9 1003.6,890.9 1015.3,896.9 C1027,902.9 1038.7,907.3 1050.4,911.9 C1062.1,916.5 1073.4,920.7 1085.5,924.5 C1097.6,928.3 1110.5,931.8 1123.1,934.5 C1135.6,937.2 1148.2,939 1160.8,940.8 C1173.3,942.6 1185.9,944 1198.4,945.3 C1210.9,946.5 1227.9,947.8 1236,948.3 C1244.1,948.8 1245.2,948.3 1247,948.3" fill="none" stroke="#1f2f9c" stroke-width="4.2" stroke-linejoin="round" stroke-linecap="round" stroke-dasharray="8.5 18"/>
<rect x="590" y="690.9" width="658" height="265.5" fill="none" stroke="#262626" stroke-width="2"/>
<text x="947.6" y="727.1" font-family="'Liberation Serif', 'Times New Roman', serif" font-size="28.5" text-anchor="start" textLength="206" lengthAdjust="spacingAndGlyphs" fill="#111" stroke="#111" stroke-width="0.35">Poly D&#160;&#160;C terminal</text>
<text x="605.9" y="729.1" font-family="'Liberation Sans', Arial, sans-serif" font-size="42" text-anchor="start" fill="#000">iii</text>
<text x="768.6" y="1045" font-family="'Liberation Sans', Arial, sans-serif" font-size="31.6" text-anchor="start" textLength="311" lengthAdjust="spacingAndGlyphs">Electron Energy (eV)</text>
<text x="426" y="47.9" font-family="'Liberation Serif', 'Times New Roman', serif" font-size="51" text-anchor="start" >(b)</text>
<rect x="369" y="1072" width="6" height="1.6" fill="#7ff0f8"/>
<rect x="835.5" y="1060.3" width="5" height="1.6" fill="#7ff0f8"/>
<rect x="846" y="1060.3" width="3" height="1.6" fill="#7ff0f8"/>
<line x1="1443.1" y1="247.8" x2="1985.8" y2="247.8" stroke="#3a3a3a" stroke-width="1.2"/>
<line x1="1715.5" y1="23.3" x2="1715.5" y2="471.5" stroke="#3a3a3a" stroke-width="1.3"/>
<line x1="1514.6" y1="347" x2="1514.6" y2="471" stroke="#888" stroke-width="1" stroke-dasharray="3 2"/>
<line x1="1914" y1="231" x2="1914" y2="471" stroke="#9a9a9a" stroke-width="1" stroke-dasharray="3 2"/>
<path d="M1544.1,471 C1545.3,462.7 1548.8,437.8 1551.2,421.2 C1553.6,404.6 1555.5,386.5 1558.3,371.5 C1561.1,356.5 1564.6,341.5 1567.8,331.2 C1571,320.9 1573.8,316.6 1577.3,309.9 C1580.8,303.2 1585.2,296.9 1589.1,291 C1593,285.1 1597.8,278.7 1600.9,274.4 C1604.1,270.1 1604.8,268.4 1608,265 C1611.2,261.6 1615.2,256.9 1619.9,254.3 C1624.6,251.7 1630.9,250.7 1636.4,249.6 C1641.9,248.5 1642.4,248.3 1653,247.9 C1663.6,247.5 1675.5,247.5 1700,247.3 C1724.5,247.1 1776.7,247.4 1800,246.5 C1823.3,245.6 1832.5,244.2 1840,242 C1847.5,239.8 1842.7,236.2 1845.2,233.1 C1847.7,230 1851.3,227.5 1854.9,223.5 C1858.5,219.5 1862.9,213.8 1866.9,209 C1870.9,204.2 1874.6,198.5 1879,194.5 C1883.4,190.5 1889.5,187.7 1893.5,184.9 C1897.5,182.1 1899.9,180.4 1903.1,177.6 C1906.3,174.8 1910.2,171.6 1912.8,168 C1915.4,164.4 1917.2,159.3 1918.8,155.9 C1920.4,152.5 1921.1,148.4 1922.5,147.4 C1923.9,146.4 1926.1,147.2 1927.3,149.8 C1928.5,152.4 1928.5,160.3 1929.7,163.1 C1930.9,165.9 1933.7,166.2 1934.5,166.8" fill="none" stroke="#c4c4c4" stroke-width="2.6" stroke-linejoin="round" stroke-linecap="round"/>
<path d="M1496.8,317 C1498,314.2 1501.5,305.4 1503.9,300.5 C1506.3,295.6 1507.8,292.8 1511,287.5 C1514.2,282.2 1519.6,272.4 1522.8,268.5 C1526,264.6 1527.1,264.2 1529.9,263.8 C1532.7,263.4 1536.6,266 1539.4,266.2 C1542.2,266.4 1543.7,266.2 1546.5,265 C1549.3,263.8 1552.5,261.3 1556,259.1 C1559.5,256.9 1564.2,253.3 1567.8,252 C1571.3,250.7 1574.1,251.7 1577.3,251.5 C1580.5,251.3 1582,251.3 1586.7,250.8 C1591.4,250.3 1595.2,249 1605.7,248.4 C1616.2,247.8 1631,247.7 1650,247.4 C1669,247.2 1697.9,247.3 1720,246.9 C1742.1,246.5 1761.9,245.5 1782.4,245.2 C1802.9,244.9 1829.9,245.8 1842.8,245.2 C1855.7,244.6 1853.7,243 1859.7,241.6 C1865.7,240.2 1873.4,238.3 1879,236.8 C1884.6,235.3 1887.7,233.7 1893.5,232.7 C1899.3,231.7 1909.2,230.9 1914,230.7 C1918.8,230.5 1919.5,231.5 1922.5,231.5 C1925.5,231.5 1928.9,232 1932.1,230.7 C1935.3,229.4 1937,228.3 1941.8,223.5 C1946.6,218.7 1955.5,208.2 1961.1,201.8 C1966.7,195.4 1971.6,189.5 1975.6,184.9 C1979.6,180.3 1983.6,175.8 1985.2,174" fill="none" stroke="#f01818" stroke-width="3.6" stroke-linejoin="round" stroke-linecap="round"/>
<path d="M1496.8,435.4 C1498,428.7 1501.5,407.3 1503.9,395.1 C1506.3,382.9 1508.6,370.7 1511,362 C1513.4,353.3 1515.3,348.2 1518.1,343.1 C1520.9,338 1524.8,333.8 1527.6,331.2 C1530.4,328.6 1532,328.5 1534.7,327.7 C1537.5,326.9 1541.3,327.5 1544.1,326.5 C1546.8,325.5 1548,324 1551.2,321.8 C1554.4,319.6 1558.8,316.3 1563.1,313.5 C1567.4,310.7 1572.6,308.9 1577.3,305.2 C1582,301.4 1586.8,295.3 1591.5,291 C1596.2,286.7 1601.8,282.1 1605.7,279.2 C1609.6,276.2 1611.5,276.5 1615.1,273.3 C1618.6,270.1 1623.5,263.4 1627,260.2 C1630.5,257 1632.1,255.9 1636.4,254.3 C1640.7,252.7 1646.3,251.9 1653,250.8 C1659.7,249.7 1665.5,248.6 1676.7,247.9 C1687.9,247.2 1705.2,247.1 1720,246.7 C1734.8,246.2 1755.1,245.9 1765.5,245.2 C1775.9,244.5 1774.8,243.1 1782.4,242.3 C1790.1,241.5 1803,240.7 1811.4,240.4 C1819.9,240.1 1827.5,241 1833.1,240.4 C1838.7,239.8 1840,238.4 1845.2,236.8 C1850.4,235.2 1859.7,233.7 1864.5,230.7 C1869.3,227.7 1871,225.1 1874.2,218.7 C1877.4,212.3 1880.6,201 1883.8,192.1 C1887,183.2 1890.3,174.8 1893.5,165.5 C1896.7,156.2 1900.3,144.2 1903.1,136.6 C1905.9,129 1907.2,127.3 1910.4,119.7 C1913.6,112.1 1918.5,100.8 1922.5,90.7 C1926.5,80.6 1932.5,64.5 1934.5,59.3" fill="none" stroke="#1414f0" stroke-width="3.6" stroke-linejoin="round" stroke-linecap="round"/>
<line x1="1510.4" y1="296.6" x2="1514" y2="339.8" stroke="#111" stroke-width="1.8"/>
<path d="M1509.8,288.6 L1506.4,298.9 L1514.8,298.2 Z" fill="#111"/>
<path d="M1514.6,347.8 L1509.6,338.2 L1518,337.5 Z" fill="#111"/>
<line x1="1914" y1="125.3" x2="1914" y2="222.7" stroke="#111" stroke-width="1.8"/>
<path d="M1914,117.3 L1909.8,127.3 L1918.2,127.3 Z" fill="#111"/>
<path d="M1914,230.7 L1909.8,220.7 L1918.2,220.7 Z" fill="#111"/>
<rect x="1727.5" y="391.1" width="165.1" height="24.3" fill="#eef03a" stroke="#4a66e8" stroke-width="1.6"/>
<rect x="1728.3" y="396.2" width="163.5" height="8.5" fill="#5577c4" stroke="#2a48e0" stroke-width="1.4"/>
<path d="M1754.5,299.7 L1753.3,300.7 L1751.6,301.7 L1749.7,302.7 L1747.5,303.7 L1745.4,304.7 L1743.3,305.7 L1741.4,306.7 L1739.8,307.7 L1738.4,308.7 L1737.4,309.7 L1736.6,310.7 L1736,311.8 L1735.7,312.8 L1735.6,313.8 L1735.8,314.8 L1736.1,315.8 L1736.8,316.8 L1737.7,317.8 L1738.9,318.8 L1740.3,319.8 L1742,320.8 L1744,321.8 L1746.1,322.8 L1748.2,323.8 L1750.3,324.8 L1752.2,325.8 L1753.7,326.8 L1754.8,327.8 L1755.2,328.8 L1755,329.8 L1754.2,330.8 L1752.8,331.8 L1751,332.8 L1749,333.9 L1746.8,334.9 L1744.7,335.9 L1742.7,336.9 L1740.9,337.9 L1739.3,338.9 L1738.1,339.9 L1737.1,340.9 L1736.3,341.9 L1735.9,342.9 L1735.6,343.9 L1735.6,344.9 L1735.9,345.9 L1736.3,346.9 L1737.1,347.9 L1738,348.9 L1739.3,349.9 L1740.9,350.9 L1742.7,351.9 L1744.7,352.9 L1746.8,353.9 L1749,354.9 L1751,355.9 L1752.8,357 L1754.1,358 L1755,359 L1755.2,360 L1754.8,361 L1753.7,362 L1752.2,363 L1750.3,364 L1748.2,365 L1746.1,366 L1744,367 L1742,368 L1740.3,369 L1738.9,370 L1737.7,371 L1736.8,372 L1736.1,373 L1735.8,374 L1735.6,375 L1735.7,376 L1736,377 L1736.5,378 L1737.4,379.1 L1738.4,380.1 L1739.8,381.1 L1741.4,382.1 L1743.3,383.1 L1745.4,384.1 L1747.5,385.1 L1749.7,386.1 L1751.6,387.1 L1753.3,388.1 L1754.5,389.1 L1755.1,390.1" fill="none" stroke="#16403f" stroke-width="4.8" stroke-linecap="round" stroke-linejoin="round"/>
<path d="M1754.5,299.7 L1753.3,300.7 L1751.6,301.7 L1749.7,302.7 L1747.5,303.7 L1745.4,304.7 L1743.3,305.7 L1741.4,306.7 L1739.8,307.7 L1738.4,308.7 L1737.4,309.7 L1736.6,310.7 L1736,311.8 L1735.7,312.8 L1735.6,313.8 L1735.8,314.8 L1736.1,315.8 L1736.8,316.8 L1737.7,317.8 L1738.9,318.8 L1740.3,319.8 L1742,320.8 L1744,321.8 L1746.1,322.8 L1748.2,323.8 L1750.3,324.8 L1752.2,325.8 L1753.7,326.8 L1754.8,327.8 L1755.2,328.8 L1755,329.8 L1754.2,330.8 L1752.8,331.8 L1751,332.8 L1749,333.9 L1746.8,334.9 L1744.7,335.9 L1742.7,336.9 L1740.9,337.9 L1739.3,338.9 L1738.1,339.9 L1737.1,340.9 L1736.3,341.9 L1735.9,342.9 L1735.6,343.9 L1735.6,344.9 L1735.9,345.9 L1736.3,346.9 L1737.1,347.9 L1738,348.9 L1739.3,349.9 L1740.9,350.9 L1742.7,351.9 L1744.7,352.9 L1746.8,353.9 L1749,354.9 L1751,355.9 L1752.8,357 L1754.1,358 L1755,359 L1755.2,360 L1754.8,361 L1753.7,362 L1752.2,363 L1750.3,364 L1748.2,365 L1746.1,366 L1744,367 L1742,368 L1740.3,369 L1738.9,370 L1737.7,371 L1736.8,372 L1736.1,373 L1735.8,374 L1735.6,375 L1735.7,376 L1736,377 L1736.5,378 L1737.4,379.1 L1738.4,380.1 L1739.8,381.1 L1741.4,382.1 L1743.3,383.1 L1745.4,384.1 L1747.5,385.1 L1749.7,386.1 L1751.6,387.1 L1753.3,388.1 L1754.5,389.1 L1755.1,390.1" fill="none" stroke="#3f8a86" stroke-width="1.6" stroke-linecap="round" transform="translate(-1,-0.8)" opacity="0.9"/>
<path d="M1775.3,299.7 L1774.1,300.7 L1772.4,301.7 L1770.5,302.7 L1768.3,303.7 L1766.2,304.7 L1764.1,305.7 L1762.2,306.7 L1760.6,307.7 L1759.2,308.7 L1758.2,309.7 L1757.4,310.7 L1756.8,311.8 L1756.5,312.8 L1756.4,313.8 L1756.6,314.8 L1756.9,315.8 L1757.6,316.8 L1758.5,317.8 L1759.7,318.8 L1761.1,319.8 L1762.8,320.8 L1764.8,321.8 L1766.9,322.8 L1769,323.8 L1771.1,324.8 L1773,325.8 L1774.5,326.8 L1775.6,327.8 L1776,328.8 L1775.8,329.8 L1775,330.8 L1773.6,331.8 L1771.8,332.8 L1769.8,333.9 L1767.6,334.9 L1765.5,335.9 L1763.5,336.9 L1761.7,337.9 L1760.1,338.9 L1758.9,339.9 L1757.9,340.9 L1757.1,341.9 L1756.7,342.9 L1756.4,343.9 L1756.4,344.9 L1756.7,345.9 L1757.1,346.9 L1757.9,347.9 L1758.8,348.9 L1760.1,349.9 L1761.7,350.9 L1763.5,351.9 L1765.5,352.9 L1767.6,353.9 L1769.8,354.9 L1771.8,355.9 L1773.6,357 L1774.9,358 L1775.8,359 L1776,360 L1775.6,361 L1774.5,362 L1773,363 L1771.1,364 L1769,365 L1766.9,366 L1764.8,367 L1762.8,368 L1761.1,369 L1759.7,370 L1758.5,371 L1757.6,372 L1756.9,373 L1756.6,374 L1756.4,375 L1756.5,376 L1756.8,377 L1757.3,378 L1758.2,379.1 L1759.2,380.1 L1760.6,381.1 L1762.2,382.1 L1764.1,383.1 L1766.2,384.1 L1768.3,385.1 L1770.5,386.1 L1772.4,387.1 L1774.1,388.1 L1775.3,389.1 L1775.9,390.1" fill="none" stroke="#16403f" stroke-width="4.8" stroke-linecap="round" stroke-linejoin="round"/>
<path d="M1775.3,299.7 L1774.1,300.7 L1772.4,301.7 L1770.5,302.7 L1768.3,303.7 L1766.2,304.7 L1764.1,305.7 L1762.2,306.7 L1760.6,307.7 L1759.2,308.7 L1758.2,309.7 L1757.4,310.7 L1756.8,311.8 L1756.5,312.8 L1756.4,313.8 L1756.6,314.8 L1756.9,315.8 L1757.6,316.8 L1758.5,317.8 L1759.7,318.8 L1761.1,319.8 L1762.8,320.8 L1764.8,321.8 L1766.9,322.8 L1769,323.8 L1771.1,324.8 L1773,325.8 L1774.5,326.8 L1775.6,327.8 L1776,328.8 L1775.8,329.8 L1775,330.8 L1773.6,331.8 L1771.8,332.8 L1769.8,333.9 L1767.6,334.9 L1765.5,335.9 L1763.5,336.9 L1761.7,337.9 L1760.1,338.9 L1758.9,339.9 L1757.9,340.9 L1757.1,341.9 L1756.7,342.9 L1756.4,343.9 L1756.4,344.9 L1756.7,345.9 L1757.1,346.9 L1757.9,347.9 L1758.8,348.9 L1760.1,349.9 L1761.7,350.9 L1763.5,351.9 L1765.5,352.9 L1767.6,353.9 L1769.8,354.9 L1771.8,355.9 L1773.6,357 L1774.9,358 L1775.8,359 L1776,360 L1775.6,361 L1774.5,362 L1773,363 L1771.1,364 L1769,365 L1766.9,366 L1764.8,367 L1762.8,368 L1761.1,369 L1759.7,370 L1758.5,371 L1757.6,372 L1756.9,373 L1756.6,374 L1756.4,375 L1756.5,376 L1756.8,377 L1757.3,378 L1758.2,379.1 L1759.2,380.1 L1760.6,381.1 L1762.2,382.1 L1764.1,383.1 L1766.2,384.1 L1768.3,385.1 L1770.5,386.1 L1772.4,387.1 L1774.1,388.1 L1775.3,389.1 L1775.9,390.1" fill="none" stroke="#3f8a86" stroke-width="1.6" stroke-linecap="round" transform="translate(-1,-0.8)" opacity="0.9"/>
<path d="M1796.1,299.7 L1794.9,300.7 L1793.2,301.7 L1791.3,302.7 L1789.1,303.7 L1787,304.7 L1784.9,305.7 L1783,306.7 L1781.4,307.7 L1780,308.7 L1779,309.7 L1778.2,310.7 L1777.6,311.8 L1777.3,312.8 L1777.2,313.8 L1777.4,314.8 L1777.7,315.8 L1778.4,316.8 L1779.3,317.8 L1780.5,318.8 L1781.9,319.8 L1783.6,320.8 L1785.6,321.8 L1787.7,322.8 L1789.8,323.8 L1791.9,324.8 L1793.8,325.8 L1795.3,326.8 L1796.4,327.8 L1796.8,328.8 L1796.6,329.8 L1795.8,330.8 L1794.4,331.8 L1792.6,332.8 L1790.6,333.9 L1788.4,334.9 L1786.3,335.9 L1784.3,336.9 L1782.5,337.9 L1780.9,338.9 L1779.7,339.9 L1778.7,340.9 L1777.9,341.9 L1777.5,342.9 L1777.2,343.9 L1777.2,344.9 L1777.5,345.9 L1777.9,346.9 L1778.7,347.9 L1779.6,348.9 L1780.9,349.9 L1782.5,350.9 L1784.3,351.9 L1786.3,352.9 L1788.4,353.9 L1790.6,354.9 L1792.6,355.9 L1794.4,357 L1795.7,358 L1796.6,359 L1796.8,360 L1796.4,361 L1795.3,362 L1793.8,363 L1791.9,364 L1789.8,365 L1787.7,366 L1785.6,367 L1783.6,368 L1781.9,369 L1780.5,370 L1779.3,371 L1778.4,372 L1777.7,373 L1777.4,374 L1777.2,375 L1777.3,376 L1777.6,377 L1778.1,378 L1779,379.1 L1780,380.1 L1781.4,381.1 L1783,382.1 L1784.9,383.1 L1787,384.1 L1789.1,385.1 L1791.3,386.1 L1793.2,387.1 L1794.9,388.1 L1796.1,389.1 L1796.7,390.1" fill="none" stroke="#16403f" stroke-width="4.8" stroke-linecap="round" stroke-linejoin="round"/>
<path d="M1796.1,299.7 L1794.9,300.7 L1793.2,301.7 L1791.3,302.7 L1789.1,303.7 L1787,304.7 L1784.9,305.7 L1783,306.7 L1781.4,307.7 L1780,308.7 L1779,309.7 L1778.2,310.7 L1777.6,311.8 L1777.3,312.8 L1777.2,313.8 L1777.4,314.8 L1777.7,315.8 L1778.4,316.8 L1779.3,317.8 L1780.5,318.8 L1781.9,319.8 L1783.6,320.8 L1785.6,321.8 L1787.7,322.8 L1789.8,323.8 L1791.9,324.8 L1793.8,325.8 L1795.3,326.8 L1796.4,327.8 L1796.8,328.8 L1796.6,329.8 L1795.8,330.8 L1794.4,331.8 L1792.6,332.8 L1790.6,333.9 L1788.4,334.9 L1786.3,335.9 L1784.3,336.9 L1782.5,337.9 L1780.9,338.9 L1779.7,339.9 L1778.7,340.9 L1777.9,341.9 L1777.5,342.9 L1777.2,343.9 L1777.2,344.9 L1777.5,345.9 L1777.9,346.9 L1778.7,347.9 L1779.6,348.9 L1780.9,349.9 L1782.5,350.9 L1784.3,351.9 L1786.3,352.9 L1788.4,353.9 L1790.6,354.9 L1792.6,355.9 L1794.4,357 L1795.7,358 L1796.6,359 L1796.8,360 L1796.4,361 L1795.3,362 L1793.8,363 L1791.9,364 L1789.8,365 L1787.7,366 L1785.6,367 L1783.6,368 L1781.9,369 L1780.5,370 L1779.3,371 L1778.4,372 L1777.7,373 L1777.4,374 L1777.2,375 L1777.3,376 L1777.6,377 L1778.1,378 L1779,379.1 L1780,380.1 L1781.4,381.1 L1783,382.1 L1784.9,383.1 L1787,384.1 L1789.1,385.1 L1791.3,386.1 L1793.2,387.1 L1794.9,388.1 L1796.1,389.1 L1796.7,390.1" fill="none" stroke="#3f8a86" stroke-width="1.6" stroke-linecap="round" transform="translate(-1,-0.8)" opacity="0.9"/>
<path d="M1816.9,299.7 L1815.7,300.7 L1814,301.7 L1812.1,302.7 L1809.9,303.7 L1807.8,304.7 L1805.7,305.7 L1803.8,306.7 L1802.2,307.7 L1800.8,308.7 L1799.8,309.7 L1799,310.7 L1798.4,311.8 L1798.1,312.8 L1798,313.8 L1798.2,314.8 L1798.5,315.8 L1799.2,316.8 L1800.1,317.8 L1801.3,318.8 L1802.7,319.8 L1804.4,320.8 L1806.4,321.8 L1808.5,322.8 L1810.6,323.8 L1812.7,324.8 L1814.6,325.8 L1816.1,326.8 L1817.2,327.8 L1817.6,328.8 L1817.4,329.8 L1816.6,330.8 L1815.2,331.8 L1813.4,332.8 L1811.4,333.9 L1809.2,334.9 L1807.1,335.9 L1805.1,336.9 L1803.3,337.9 L1801.7,338.9 L1800.5,339.9 L1799.5,340.9 L1798.7,341.9 L1798.3,342.9 L1798,343.9 L1798,344.9 L1798.3,345.9 L1798.7,346.9 L1799.5,347.9 L1800.4,348.9 L1801.7,349.9 L1803.3,350.9 L1805.1,351.9 L1807.1,352.9 L1809.2,353.9 L1811.4,354.9 L1813.4,355.9 L1815.2,357 L1816.5,358 L1817.4,359 L1817.6,360 L1817.2,361 L1816.1,362 L1814.6,363 L1812.7,364 L1810.6,365 L1808.5,366 L1806.4,367 L1804.4,368 L1802.7,369 L1801.3,370 L1800.1,371 L1799.2,372 L1798.5,373 L1798.2,374 L1798,375 L1798.1,376 L1798.4,377 L1798.9,378 L1799.8,379.1 L1800.8,380.1 L1802.2,381.1 L1803.8,382.1 L1805.7,383.1 L1807.8,384.1 L1809.9,385.1 L1812.1,386.1 L1814,387.1 L1815.7,388.1 L1816.9,389.1 L1817.5,390.1" fill="none" stroke="#16403f" stroke-width="4.8" stroke-linecap="round" stroke-linejoin="round"/>
<path d="M1816.9,299.7 L1815.7,300.7 L1814,301.7 L1812.1,302.7 L1809.9,303.7 L1807.8,304.7 L1805.7,305.7 L1803.8,306.7 L1802.2,307.7 L1800.8,308.7 L1799.8,309.7 L1799,310.7 L1798.4,311.8 L1798.1,312.8 L1798,313.8 L1798.2,314.8 L1798.5,315.8 L1799.2,316.8 L1800.1,317.8 L1801.3,318.8 L1802.7,319.8 L1804.4,320.8 L1806.4,321.8 L1808.5,322.8 L1810.6,323.8 L1812.7,324.8 L1814.6,325.8 L1816.1,326.8 L1817.2,327.8 L1817.6,328.8 L1817.4,329.8 L1816.6,330.8 L1815.2,331.8 L1813.4,332.8 L1811.4,333.9 L1809.2,334.9 L1807.1,335.9 L1805.1,336.9 L1803.3,337.9 L1801.7,338.9 L1800.5,339.9 L1799.5,340.9 L1798.7,341.9 L1798.3,342.9 L1798,343.9 L1798,344.9 L1798.3,345.9 L1798.7,346.9 L1799.5,347.9 L1800.4,348.9 L1801.7,349.9 L1803.3,350.9 L1805.1,351.9 L1807.1,352.9 L1809.2,353.9 L1811.4,354.9 L1813.4,355.9 L1815.2,357 L1816.5,358 L1817.4,359 L1817.6,360 L1817.2,361 L1816.1,362 L1814.6,363 L1812.7,364 L1810.6,365 L1808.5,366 L1806.4,367 L1804.4,368 L1802.7,369 L1801.3,370 L1800.1,371 L1799.2,372 L1798.5,373 L1798.2,374 L1798,375 L1798.1,376 L1798.4,377 L1798.9,378 L1799.8,379.1 L1800.8,380.1 L1802.2,381.1 L1803.8,382.1 L1805.7,383.1 L1807.8,384.1 L1809.9,385.1 L1812.1,386.1 L1814,387.1 L1815.7,388.1 L1816.9,389.1 L1817.5,390.1" fill="none" stroke="#3f8a86" stroke-width="1.6" stroke-linecap="round" transform="translate(-1,-0.8)" opacity="0.9"/>
<path d="M1837.7,299.7 L1836.5,300.7 L1834.8,301.7 L1832.9,302.7 L1830.7,303.7 L1828.6,304.7 L1826.5,305.7 L1824.6,306.7 L1823,307.7 L1821.6,308.7 L1820.6,309.7 L1819.8,310.7 L1819.2,311.8 L1818.9,312.8 L1818.8,313.8 L1819,314.8 L1819.3,315.8 L1820,316.8 L1820.9,317.8 L1822.1,318.8 L1823.5,319.8 L1825.2,320.8 L1827.2,321.8 L1829.3,322.8 L1831.4,323.8 L1833.5,324.8 L1835.4,325.8 L1836.9,326.8 L1838,327.8 L1838.4,328.8 L1838.2,329.8 L1837.4,330.8 L1836,331.8 L1834.2,332.8 L1832.2,333.9 L1830,334.9 L1827.9,335.9 L1825.9,336.9 L1824.1,337.9 L1822.5,338.9 L1821.3,339.9 L1820.3,340.9 L1819.5,341.9 L1819.1,342.9 L1818.8,343.9 L1818.8,344.9 L1819.1,345.9 L1819.5,346.9 L1820.3,347.9 L1821.2,348.9 L1822.5,349.9 L1824.1,350.9 L1825.9,351.9 L1827.9,352.9 L1830,353.9 L1832.2,354.9 L1834.2,355.9 L1836,357 L1837.3,358 L1838.2,359 L1838.4,360 L1838,361 L1836.9,362 L1835.4,363 L1833.5,364 L1831.4,365 L1829.3,366 L1827.2,367 L1825.2,368 L1823.5,369 L1822.1,370 L1820.9,371 L1820,372 L1819.3,373 L1819,374 L1818.8,375 L1818.9,376 L1819.2,377 L1819.7,378 L1820.6,379.1 L1821.6,380.1 L1823,381.1 L1824.6,382.1 L1826.5,383.1 L1828.6,384.1 L1830.7,385.1 L1832.9,386.1 L1834.8,387.1 L1836.5,388.1 L1837.7,389.1 L1838.3,390.1" fill="none" stroke="#16403f" stroke-width="4.8" stroke-linecap="round" stroke-linejoin="round"/>
<path d="M1837.7,299.7 L1836.5,300.7 L1834.8,301.7 L1832.9,302.7 L1830.7,303.7 L1828.6,304.7 L1826.5,305.7 L1824.6,306.7 L1823,307.7 L1821.6,308.7 L1820.6,309.7 L1819.8,310.7 L1819.2,311.8 L1818.9,312.8 L1818.8,313.8 L1819,314.8 L1819.3,315.8 L1820,316.8 L1820.9,317.8 L1822.1,318.8 L1823.5,319.8 L1825.2,320.8 L1827.2,321.8 L1829.3,322.8 L1831.4,323.8 L1833.5,324.8 L1835.4,325.8 L1836.9,326.8 L1838,327.8 L1838.4,328.8 L1838.2,329.8 L1837.4,330.8 L1836,331.8 L1834.2,332.8 L1832.2,333.9 L1830,334.9 L1827.9,335.9 L1825.9,336.9 L1824.1,337.9 L1822.5,338.9 L1821.3,339.9 L1820.3,340.9 L1819.5,341.9 L1819.1,342.9 L1818.8,343.9 L1818.8,344.9 L1819.1,345.9 L1819.5,346.9 L1820.3,347.9 L1821.2,348.9 L1822.5,349.9 L1824.1,350.9 L1825.9,351.9 L1827.9,352.9 L1830,353.9 L1832.2,354.9 L1834.2,355.9 L1836,357 L1837.3,358 L1838.2,359 L1838.4,360 L1838,361 L1836.9,362 L1835.4,363 L1833.5,364 L1831.4,365 L1829.3,366 L1827.2,367 L1825.2,368 L1823.5,369 L1822.1,370 L1820.9,371 L1820,372 L1819.3,373 L1819,374 L1818.8,375 L1818.9,376 L1819.2,377 L1819.7,378 L1820.6,379.1 L1821.6,380.1 L1823,381.1 L1824.6,382.1 L1826.5,383.1 L1828.6,384.1 L1830.7,385.1 L1832.9,386.1 L1834.8,387.1 L1836.5,388.1 L1837.7,389.1 L1838.3,390.1" fill="none" stroke="#3f8a86" stroke-width="1.6" stroke-linecap="round" transform="translate(-1,-0.8)" opacity="0.9"/>
<path d="M1858.5,299.7 L1857.3,300.7 L1855.6,301.7 L1853.7,302.7 L1851.5,303.7 L1849.4,304.7 L1847.3,305.7 L1845.4,306.7 L1843.8,307.7 L1842.4,308.7 L1841.4,309.7 L1840.6,310.7 L1840,311.8 L1839.7,312.8 L1839.6,313.8 L1839.8,314.8 L1840.1,315.8 L1840.8,316.8 L1841.7,317.8 L1842.9,318.8 L1844.3,319.8 L1846,320.8 L1848,321.8 L1850.1,322.8 L1852.2,323.8 L1854.3,324.8 L1856.2,325.8 L1857.7,326.8 L1858.8,327.8 L1859.2,328.8 L1859,329.8 L1858.2,330.8 L1856.8,331.8 L1855,332.8 L1853,333.9 L1850.8,334.9 L1848.7,335.9 L1846.7,336.9 L1844.9,337.9 L1843.3,338.9 L1842.1,339.9 L1841.1,340.9 L1840.3,341.9 L1839.9,342.9 L1839.6,343.9 L1839.6,344.9 L1839.9,345.9 L1840.3,346.9 L1841.1,347.9 L1842,348.9 L1843.3,349.9 L1844.9,350.9 L1846.7,351.9 L1848.7,352.9 L1850.8,353.9 L1853,354.9 L1855,355.9 L1856.8,357 L1858.1,358 L1859,359 L1859.2,360 L1858.8,361 L1857.7,362 L1856.2,363 L1854.3,364 L1852.2,365 L1850.1,366 L1848,367 L1846,368 L1844.3,369 L1842.9,370 L1841.7,371 L1840.8,372 L1840.1,373 L1839.8,374 L1839.6,375 L1839.7,376 L1840,377 L1840.5,378 L1841.4,379.1 L1842.4,380.1 L1843.8,381.1 L1845.4,382.1 L1847.3,383.1 L1849.4,384.1 L1851.5,385.1 L1853.7,386.1 L1855.6,387.1 L1857.3,388.1 L1858.5,389.1 L1859.1,390.1" fill="none" stroke="#16403f" stroke-width="4.8" stroke-linecap="round" stroke-linejoin="round"/>
<path d="M1858.5,299.7 L1857.3,300.7 L1855.6,301.7 L1853.7,302.7 L1851.5,303.7 L1849.4,304.7 L1847.3,305.7 L1845.4,306.7 L1843.8,307.7 L1842.4,308.7 L1841.4,309.7 L1840.6,310.7 L1840,311.8 L1839.7,312.8 L1839.6,313.8 L1839.8,314.8 L1840.1,315.8 L1840.8,316.8 L1841.7,317.8 L1842.9,318.8 L1844.3,319.8 L1846,320.8 L1848,321.8 L1850.1,322.8 L1852.2,323.8 L1854.3,324.8 L1856.2,325.8 L1857.7,326.8 L1858.8,327.8 L1859.2,328.8 L1859,329.8 L1858.2,330.8 L1856.8,331.8 L1855,332.8 L1853,333.9 L1850.8,334.9 L1848.7,335.9 L1846.7,336.9 L1844.9,337.9 L1843.3,338.9 L1842.1,339.9 L1841.1,340.9 L1840.3,341.9 L1839.9,342.9 L1839.6,343.9 L1839.6,344.9 L1839.9,345.9 L1840.3,346.9 L1841.1,347.9 L1842,348.9 L1843.3,349.9 L1844.9,350.9 L1846.7,351.9 L1848.7,352.9 L1850.8,353.9 L1853,354.9 L1855,355.9 L1856.8,357 L1858.1,358 L1859,359 L1859.2,360 L1858.8,361 L1857.7,362 L1856.2,363 L1854.3,364 L1852.2,365 L1850.1,366 L1848,367 L1846,368 L1844.3,369 L1842.9,370 L1841.7,371 L1840.8,372 L1840.1,373 L1839.8,374 L1839.6,375 L1839.7,376 L1840,377 L1840.5,378 L1841.4,379.1 L1842.4,380.1 L1843.8,381.1 L1845.4,382.1 L1847.3,383.1 L1849.4,384.1 L1851.5,385.1 L1853.7,386.1 L1855.6,387.1 L1857.3,388.1 L1858.5,389.1 L1859.1,390.1" fill="none" stroke="#3f8a86" stroke-width="1.6" stroke-linecap="round" transform="translate(-1,-0.8)" opacity="0.9"/>
<path d="M1879.3,299.7 L1878.1,300.7 L1876.4,301.7 L1874.5,302.7 L1872.3,303.7 L1870.2,304.7 L1868.1,305.7 L1866.2,306.7 L1864.6,307.7 L1863.2,308.7 L1862.2,309.7 L1861.4,310.7 L1860.8,311.8 L1860.5,312.8 L1860.4,313.8 L1860.6,314.8 L1860.9,315.8 L1861.6,316.8 L1862.5,317.8 L1863.7,318.8 L1865.1,319.8 L1866.8,320.8 L1868.8,321.8 L1870.9,322.8 L1873,323.8 L1875.1,324.8 L1877,325.8 L1878.5,326.8 L1879.6,327.8 L1880,328.8 L1879.8,329.8 L1879,330.8 L1877.6,331.8 L1875.8,332.8 L1873.8,333.9 L1871.6,334.9 L1869.5,335.9 L1867.5,336.9 L1865.7,337.9 L1864.1,338.9 L1862.9,339.9 L1861.9,340.9 L1861.1,341.9 L1860.7,342.9 L1860.4,343.9 L1860.4,344.9 L1860.7,345.9 L1861.1,346.9 L1861.9,347.9 L1862.8,348.9 L1864.1,349.9 L1865.7,350.9 L1867.5,351.9 L1869.5,352.9 L1871.6,353.9 L1873.8,354.9 L1875.8,355.9 L1877.6,357 L1878.9,358 L1879.8,359 L1880,360 L1879.6,361 L1878.5,362 L1877,363 L1875.1,364 L1873,365 L1870.9,366 L1868.8,367 L1866.8,368 L1865.1,369 L1863.7,370 L1862.5,371 L1861.6,372 L1860.9,373 L1860.6,374 L1860.4,375 L1860.5,376 L1860.8,377 L1861.3,378 L1862.2,379.1 L1863.2,380.1 L1864.6,381.1 L1866.2,382.1 L1868.1,383.1 L1870.2,384.1 L1872.3,385.1 L1874.5,386.1 L1876.4,387.1 L1878.1,388.1 L1879.3,389.1 L1879.9,390.1" fill="none" stroke="#16403f" stroke-width="4.8" stroke-linecap="round" stroke-linejoin="round"/>
<path d="M1879.3,299.7 L1878.1,300.7 L1876.4,301.7 L1874.5,302.7 L1872.3,303.7 L1870.2,304.7 L1868.1,305.7 L1866.2,306.7 L1864.6,307.7 L1863.2,308.7 L1862.2,309.7 L1861.4,310.7 L1860.8,311.8 L1860.5,312.8 L1860.4,313.8 L1860.6,314.8 L1860.9,315.8 L1861.6,316.8 L1862.5,317.8 L1863.7,318.8 L1865.1,319.8 L1866.8,320.8 L1868.8,321.8 L1870.9,322.8 L1873,323.8 L1875.1,324.8 L1877,325.8 L1878.5,326.8 L1879.6,327.8 L1880,328.8 L1879.8,329.8 L1879,330.8 L1877.6,331.8 L1875.8,332.8 L1873.8,333.9 L1871.6,334.9 L1869.5,335.9 L1867.5,336.9 L1865.7,337.9 L1864.1,338.9 L1862.9,339.9 L1861.9,340.9 L1861.1,341.9 L1860.7,342.9 L1860.4,343.9 L1860.4,344.9 L1860.7,345.9 L1861.1,346.9 L1861.9,347.9 L1862.8,348.9 L1864.1,349.9 L1865.7,350.9 L1867.5,351.9 L1869.5,352.9 L1871.6,353.9 L1873.8,354.9 L1875.8,355.9 L1877.6,357 L1878.9,358 L1879.8,359 L1880,360 L1879.6,361 L1878.5,362 L1877,363 L1875.1,364 L1873,365 L1870.9,366 L1868.8,367 L1866.8,368 L1865.1,369 L1863.7,370 L1862.5,371 L1861.6,372 L1860.9,373 L1860.6,374 L1860.4,375 L1860.5,376 L1860.8,377 L1861.3,378 L1862.2,379.1 L1863.2,380.1 L1864.6,381.1 L1866.2,382.1 L1868.1,383.1 L1870.2,384.1 L1872.3,385.1 L1874.5,386.1 L1876.4,387.1 L1878.1,388.1 L1879.3,389.1 L1879.9,390.1" fill="none" stroke="#3f8a86" stroke-width="1.6" stroke-linecap="round" transform="translate(-1,-0.8)" opacity="0.9"/>
<text x="1899.8" y="459.8" font-family="'Liberation Sans', Arial, sans-serif" font-size="30.7" text-anchor="start" textLength="64" lengthAdjust="spacingAndGlyphs">L-PA</text>
<line x1="1481" y1="66.8" x2="1522" y2="66.8" stroke="#f01818" stroke-width="5" stroke-linecap="round"/>
<line x1="1481" y1="113.6" x2="1522" y2="113.6" stroke="#1414f0" stroke-width="5" stroke-linecap="round"/>
<line x1="1481" y1="145.9" x2="1522" y2="145.9" stroke="#c4c4c4" stroke-width="5" stroke-linecap="round"/>
<text x="1535" y="74.6" font-family="'Liberation Serif', 'Times New Roman', serif" font-size="30" font-style="italic" font-weight="bold" fill="#111" textLength="21.5" lengthAdjust="spacingAndGlyphs">M</text>
<line x1="1538.5" y1="49.6" x2="1557" y2="49.6" stroke="#111" stroke-width="1.6"/>
<path d="M1559,49.6 l-5,-3.2 l1.2,3.2 l-1.2,3.2 Z" fill="#111"/>
<text x="1560" y="80.6" font-family="'Liberation Sans', Arial, sans-serif" font-size="17" fill="#111" stroke="#111" stroke-width="0.45">Co</text>
<text x="1533" y="115.8" font-family="'Liberation Serif', 'Times New Roman', serif" font-size="30" font-style="italic" font-weight="bold" fill="#111" textLength="21.5" lengthAdjust="spacingAndGlyphs">M</text>
<line x1="1536.5" y1="90.8" x2="1555" y2="90.8" stroke="#111" stroke-width="1.6"/>
<path d="M1557,90.8 l-5,-3.2 l1.2,3.2 l-1.2,3.2 Z" fill="#111"/>
<text x="1558" y="121.8" font-family="'Liberation Sans', Arial, sans-serif" font-size="17" fill="#111" stroke="#111" stroke-width="0.45">Co</text>
<line x1="1595.3" y1="63.3" x2="1595.3" y2="80.7" stroke="#f01818" stroke-width="2.8"/>
<path d="M1595.3,52.8 L1589.3,64.3 L1601.3,64.3 Z" fill="#f01818"/>
<line x1="1595.7" y1="92.4" x2="1595.7" y2="107" stroke="#1414f0" stroke-width="2.8"/>
<path d="M1595.7,117.5 L1589.7,106 L1601.7,106 Z" fill="#1414f0"/>
<text x="1535.2" y="145.7" font-family="'Liberation Sans', Arial, sans-serif" font-size="25" text-anchor="start" textLength="119.5" lengthAdjust="spacingAndGlyphs">on Au(111)</text>
<text x="1521" y="384.2" font-family="'Liberation Sans', Arial, sans-serif" font-size="35.5" text-anchor="start" textLength="29.5" lengthAdjust="spacingAndGlyphs" stroke="#000" stroke-width="0.8">&#916;I</text>
<text x="1551.4" y="392.3" font-family="'Liberation Sans', Arial, sans-serif" font-size="23.3" text-anchor="start" textLength="70" lengthAdjust="spacingAndGlyphs" stroke="#000" stroke-width="0.5">HOMO</text>
<text x="1796.5" y="165.2" font-family="'Liberation Sans', Arial, sans-serif" font-size="35.8" text-anchor="start" textLength="29.5" lengthAdjust="spacingAndGlyphs" stroke="#000" stroke-width="0.8">&#916;I</text>
<text x="1826" y="173.3" font-family="'Liberation Sans', Arial, sans-serif" font-size="24.2" text-anchor="start" textLength="64" lengthAdjust="spacingAndGlyphs" stroke="#000" stroke-width="0.5">LUMO</text>
<rect x="1443.1" y="23.3" width="542.7" height="448.2" fill="none" stroke="#262626" stroke-width="2"/>
<line x1="1434.1" y1="446.8" x2="1443.1" y2="446.8" stroke="#262626" stroke-width="1.8"/>
<text x="1428.3" y="456" font-family="'Liberation Sans', Arial, sans-serif" font-size="30.8" text-anchor="end" textLength="26" lengthAdjust="spacingAndGlyphs">-2</text>
<line x1="1438.6" y1="397.1" x2="1443.1" y2="397.1" stroke="#262626" stroke-width="1.8"/>
<line x1="1434.1" y1="347.3" x2="1443.1" y2="347.3" stroke="#262626" stroke-width="1.8"/>
<text x="1428.3" y="356.5" font-family="'Liberation Sans', Arial, sans-serif" font-size="30.8" text-anchor="end" textLength="26" lengthAdjust="spacingAndGlyphs">-1</text>
<line x1="1438.6" y1="297.6" x2="1443.1" y2="297.6" stroke="#262626" stroke-width="1.8"/>
<line x1="1434.1" y1="247.8" x2="1443.1" y2="247.8" stroke="#262626" stroke-width="1.8"/>
<text x="1428.3" y="257" font-family="'Liberation Sans', Arial, sans-serif" font-size="30.8" text-anchor="end" >0</text>
<line x1="1438.6" y1="198.1" x2="1443.1" y2="198.1" stroke="#262626" stroke-width="1.8"/>
<line x1="1434.1" y1="148.3" x2="1443.1" y2="148.3" stroke="#262626" stroke-width="1.8"/>
<text x="1428.3" y="157.5" font-family="'Liberation Sans', Arial, sans-serif" font-size="30.8" text-anchor="end" >1</text>
<line x1="1438.6" y1="98.6" x2="1443.1" y2="98.6" stroke="#262626" stroke-width="1.8"/>
<line x1="1434.1" y1="48.8" x2="1443.1" y2="48.8" stroke="#262626" stroke-width="1.8"/>
<text x="1428.3" y="58" font-family="'Liberation Sans', Arial, sans-serif" font-size="30.8" text-anchor="end" >2</text>
<line x1="1443.5" y1="471.5" x2="1443.5" y2="476" stroke="#262626" stroke-width="1.8"/>
<line x1="1986.3" y1="471.5" x2="1986.3" y2="476" stroke="#262626" stroke-width="1.8"/>
<line x1="1497.8" y1="471.5" x2="1497.8" y2="480.5" stroke="#262626" stroke-width="1.8"/>
<line x1="1497.8" y1="23.3" x2="1497.8" y2="29.8" stroke="#262626" stroke-width="1.6"/>
<text x="1496.8" y="509.8" font-family="'Liberation Sans', Arial, sans-serif" font-size="30.8" text-anchor="middle" textLength="26" lengthAdjust="spacingAndGlyphs">-2</text>
<line x1="1552.1" y1="471.5" x2="1552.1" y2="476" stroke="#262626" stroke-width="1.8"/>
<line x1="1552.1" y1="23.3" x2="1552.1" y2="29.8" stroke="#262626" stroke-width="1.6"/>
<line x1="1606.4" y1="471.5" x2="1606.4" y2="480.5" stroke="#262626" stroke-width="1.8"/>
<line x1="1606.4" y1="23.3" x2="1606.4" y2="29.8" stroke="#262626" stroke-width="1.6"/>
<text x="1605.4" y="509.8" font-family="'Liberation Sans', Arial, sans-serif" font-size="30.8" text-anchor="middle" textLength="26" lengthAdjust="spacingAndGlyphs">-1</text>
<line x1="1660.6" y1="471.5" x2="1660.6" y2="476" stroke="#262626" stroke-width="1.8"/>
<line x1="1660.6" y1="23.3" x2="1660.6" y2="29.8" stroke="#262626" stroke-width="1.6"/>
<line x1="1714.9" y1="471.5" x2="1714.9" y2="480.5" stroke="#262626" stroke-width="1.8"/>
<line x1="1714.9" y1="23.3" x2="1714.9" y2="29.8" stroke="#262626" stroke-width="1.6"/>
<text x="1714.9" y="509.8" font-family="'Liberation Sans', Arial, sans-serif" font-size="30.8" text-anchor="middle" >0</text>
<line x1="1769.2" y1="471.5" x2="1769.2" y2="476" stroke="#262626" stroke-width="1.8"/>
<line x1="1769.2" y1="23.3" x2="1769.2" y2="29.8" stroke="#262626" stroke-width="1.6"/>
<line x1="1823.5" y1="471.5" x2="1823.5" y2="480.5" stroke="#262626" stroke-width="1.8"/>
<line x1="1823.5" y1="23.3" x2="1823.5" y2="29.8" stroke="#262626" stroke-width="1.6"/>
<text x="1823.5" y="509.8" font-family="'Liberation Sans', Arial, sans-serif" font-size="30.8" text-anchor="middle" >1</text>
<line x1="1877.7" y1="471.5" x2="1877.7" y2="476" stroke="#262626" stroke-width="1.8"/>
<line x1="1877.7" y1="23.3" x2="1877.7" y2="29.8" stroke="#262626" stroke-width="1.6"/>
<line x1="1932" y1="471.5" x2="1932" y2="480.5" stroke="#262626" stroke-width="1.8"/>
<line x1="1932" y1="23.3" x2="1932" y2="29.8" stroke="#262626" stroke-width="1.6"/>
<text x="1932" y="509.8" font-family="'Liberation Sans', Arial, sans-serif" font-size="30.8" text-anchor="middle" >2</text>
<line x1="1979.3" y1="68.6" x2="1985.8" y2="68.6" stroke="#262626" stroke-width="1.6"/>
<line x1="1979.3" y1="113.4" x2="1985.8" y2="113.4" stroke="#262626" stroke-width="1.6"/>
<line x1="1979.3" y1="158.2" x2="1985.8" y2="158.2" stroke="#262626" stroke-width="1.6"/>
<line x1="1979.3" y1="203" x2="1985.8" y2="203" stroke="#262626" stroke-width="1.6"/>
<line x1="1979.3" y1="247.8" x2="1985.8" y2="247.8" stroke="#262626" stroke-width="1.6"/>
<line x1="1979.3" y1="292.6" x2="1985.8" y2="292.6" stroke="#262626" stroke-width="1.6"/>
<line x1="1979.3" y1="337.4" x2="1985.8" y2="337.4" stroke="#262626" stroke-width="1.6"/>
<line x1="1979.3" y1="382.2" x2="1985.8" y2="382.2" stroke="#262626" stroke-width="1.6"/>
<line x1="1979.3" y1="427" x2="1985.8" y2="427" stroke="#262626" stroke-width="1.6"/>
<text transform="translate(1383.7,238.5) rotate(-90)" x="0" y="0" font-family="'Liberation Sans', Arial, sans-serif" font-size="32.3" text-anchor="middle">Current (nA)</text>
<line x1="1439.4" y1="752.3" x2="1988.2" y2="752.3" stroke="#3a3a3a" stroke-width="1.2"/>
<line x1="1714" y1="525.2" x2="1714" y2="978.6" stroke="#3a3a3a" stroke-width="1.3"/>
<path d="M1496.5,818 C1496.9,817.3 1497.2,816.2 1498.9,813.6 C1500.6,811 1503.9,805.9 1506.7,802.5 C1509.5,799.1 1512.7,796.7 1515.7,793.5 C1518.7,790.3 1521.6,786.8 1524.6,783.5 C1527.6,780.2 1529,775.7 1533.5,773.5 C1538,771.3 1545.4,771.8 1551.3,770.1 C1557.2,768.4 1562.4,765.2 1569.1,763.5 C1575.8,761.8 1583.2,761.2 1591.4,760.1 C1599.6,759 1608.9,757.9 1618.2,756.8 C1627.5,755.7 1633.5,754.1 1647.1,753.4 C1660.7,752.7 1669.5,752.7 1700,752.5 C1730.5,752.3 1803.3,753.4 1830,752.3 C1856.7,751.2 1850.6,748.8 1860,746 C1869.4,743.2 1879.8,738.1 1886.2,735.6 C1892.6,733.1 1894.3,731.9 1898.3,730.7 C1902.3,729.5 1905.6,729 1910.4,728.3 C1915.2,727.6 1922.1,727.2 1927.3,726.6 C1932.5,726 1937,726.2 1941.8,724.7 C1946.6,723.2 1951.5,720.5 1956.3,717.5 C1961.1,714.5 1965.6,710.4 1970.7,706.6 C1975.8,702.8 1984.3,696.5 1987,694.5" fill="none" stroke="#f01818" stroke-width="3.6" stroke-linejoin="round" stroke-linecap="round" stroke-dasharray="0.1 7.2"/>
<path d="M1497.8,890.5 C1498.5,886.2 1501,873.5 1502.3,864.8 C1503.6,856.1 1504.5,846.3 1505.6,838.1 C1506.7,829.9 1507.3,822.1 1509,815.8 C1510.7,809.5 1513.1,803.7 1515.7,800.2 C1518.3,796.7 1521.3,796 1524.6,794.7 C1527.9,793.4 1531.2,794.3 1535.7,792.4 C1540.2,790.5 1545.7,786.6 1551.3,783.5 C1556.9,780.4 1563.1,776.3 1569.1,773.5 C1575,770.7 1580.3,768.3 1587,766.8 C1593.7,765.3 1602.9,765.9 1609.2,764.6 C1615.5,763.3 1618.5,760.7 1624.8,759 C1631.1,757.3 1637.8,755.4 1647.1,754.5 C1656.4,753.6 1668.4,753.8 1680.6,753.4 C1692.8,753 1700.1,752.6 1720,752 C1739.9,751.4 1780,750.7 1800,749.5 C1820,748.3 1829.2,747.7 1840,745 C1850.8,742.3 1858.4,737.1 1864.5,733.1 C1870.6,729.1 1873,725.1 1876.6,721.1 C1880.2,717.1 1882.2,713.8 1886.2,709 C1890.2,704.2 1896.3,697.7 1900.7,692.1 C1905.1,686.5 1909.2,681.2 1912.8,675.2 C1916.4,669.2 1919.7,662.3 1922.5,655.9 C1925.3,649.5 1927.5,642.6 1929.7,636.6 C1931.9,630.6 1933.9,625.3 1935.7,619.7 C1937.5,614.1 1939.8,605.6 1940.6,602.8" fill="none" stroke="#1414f0" stroke-width="3.6" stroke-linejoin="round" stroke-linecap="round" stroke-dasharray="0.1 7.2"/>
<path d="M1493.4,822.5 C1494.7,819.2 1498.2,808.8 1501.2,802.5 C1504.2,796.2 1508.1,789.6 1511.2,784.6 C1514.3,779.6 1517.7,775.1 1520.1,772.4 C1522.5,769.7 1523.5,768.9 1525.7,768.6 C1527.9,768.3 1530.7,770.4 1533.5,770.8 C1536.3,771.2 1539.4,771.5 1542.4,770.8 C1545.4,770.1 1548.7,768.4 1551.3,766.8 C1553.9,765.2 1555.6,762.9 1558,761.2 C1560.4,759.5 1562.8,757.5 1565.8,756.8 C1568.8,756.1 1571.5,757.2 1575.8,756.8 C1580.1,756.4 1581.4,755.2 1591.4,754.5 C1601.4,753.8 1614.6,753.2 1636,752.8 C1657.4,752.4 1687.5,752 1720,751.9 C1752.5,751.8 1809,752.5 1830.7,752 C1852.4,751.5 1844,750.1 1850,748.8 C1856,747.5 1860.9,745.6 1866.9,744 C1872.9,742.4 1879,740.5 1886.2,739.2 C1893.5,737.9 1905.2,736.4 1910.4,736 C1915.6,735.6 1914,736.8 1917.6,736.8 C1921.2,736.8 1928.1,737.2 1932.1,736 C1936.1,734.8 1936.6,734.8 1941.8,729.5 C1947,724.2 1956,713 1963.5,704.2 C1971,695.5 1983.1,681.5 1987,677" fill="none" stroke="#f01818" stroke-width="3.6" stroke-linejoin="round" stroke-linecap="round"/>
<path d="M1493.4,942.8 C1494.5,937.2 1497.7,920.5 1500.1,909.4 C1502.5,898.3 1504.9,886.8 1507.9,876 C1510.9,865.2 1514,851.9 1517.9,844.8 C1521.8,837.7 1527.6,835.5 1531.3,833.6 C1535,831.7 1535.8,835.6 1540.2,833.2 C1544.7,830.8 1552.4,822.9 1558,819.2 C1563.6,815.5 1567.3,815.9 1573.6,810.9 C1579.9,805.9 1590,794.2 1595.9,789.1 C1601.8,784 1604.4,784.3 1609.2,780.2 C1614,776.1 1620.3,768.1 1624.8,764.6 C1629.3,761.1 1630.4,760.6 1636,759 C1641.6,757.4 1650.9,756.1 1658.3,755.2 C1665.7,754.3 1670.3,753.9 1680.6,753.4 C1690.9,752.9 1705,752.8 1720,752 C1735,751.2 1756,749.7 1770.4,748.8 C1784.8,747.9 1795.8,746.9 1806.6,746.4 C1817.4,745.9 1829.1,746.3 1835.5,745.7 C1841.9,745.1 1840.4,744.3 1845.2,742.8 C1850,741.3 1860.1,738.8 1864.5,736.8 C1868.9,734.8 1869.4,734.5 1871.8,730.7 C1874.2,726.9 1876.2,720.6 1879,713.8 C1881.8,707 1885.5,697.8 1888.7,689.7 C1891.9,681.7 1895.5,674 1898.3,665.5 C1901.1,657 1903.6,645 1905.6,639 C1907.6,633 1908.8,632.5 1910.4,629.3 C1912,626.1 1912.8,625.3 1915.2,619.7 C1917.6,614.1 1921.5,605.4 1924.9,595.5 C1928.3,585.6 1933.9,566.3 1935.7,560.5" fill="none" stroke="#1414f0" stroke-width="3.6" stroke-linejoin="round" stroke-linecap="round"/>
<rect x="1728.7" y="920.4" width="168.8" height="24.5" fill="#eef03a" stroke="#4a66e8" stroke-width="1.6"/>
<rect x="1729.5" y="925.5" width="167.2" height="8.6" fill="#5577c4" stroke="#2a48e0" stroke-width="1.4"/>
<path d="M1824.4,857.5 L1825.1,859.4 L1825.9,861.1 L1826.8,862.5 L1827.7,863.5 L1828.6,864 L1829.7,863.9 L1830.8,863.3 L1831.9,862.3 L1833.2,861 L1834.4,859.4 L1835.7,857.8 L1836.9,856.3 L1838.1,855.1 L1839.3,854.3 L1840.3,853.9 L1841.3,854.1 L1842.3,854.8 L1843.1,856 L1844,857.6 L1844.7,859.4 L1845.5,861.2 L1846.3,863.1 L1847.1,864.7 L1847.9,865.9 L1848.9,866.7 L1849.9,866.9 L1850.9,866.7 L1852.1,865.9 L1853.3,864.7 L1854.5,863.3 L1855.7,861.7 L1857,860.1 L1858.2,858.7 L1859.4,857.6 L1860.5,857 L1861.6,856.9 L1862.5,857.3 L1863.4,858.2 L1864.3,859.6 L1865.1,861.2 L1865.9,863.1 L1866.6,865 L1867.4,866.7 L1868.2,868.2 L1869.1,869.2 L1870.1,869.8 L1871.1,869.8 L1872.2,869.3" fill="none" stroke="#143836" stroke-width="3.6" stroke-linecap="round" stroke-linejoin="round"/>
<path d="M1824.4,857.5 L1825.1,859.4 L1825.9,861.1 L1826.8,862.5 L1827.7,863.5 L1828.6,864 L1829.7,863.9 L1830.8,863.3 L1831.9,862.3 L1833.2,861 L1834.4,859.4 L1835.7,857.8 L1836.9,856.3 L1838.1,855.1 L1839.3,854.3 L1840.3,853.9 L1841.3,854.1 L1842.3,854.8 L1843.1,856 L1844,857.6 L1844.7,859.4 L1845.5,861.2 L1846.3,863.1 L1847.1,864.7 L1847.9,865.9 L1848.9,866.7 L1849.9,866.9 L1850.9,866.7 L1852.1,865.9 L1853.3,864.7 L1854.5,863.3 L1855.7,861.7 L1857,860.1 L1858.2,858.7 L1859.4,857.6 L1860.5,857 L1861.6,856.9 L1862.5,857.3 L1863.4,858.2 L1864.3,859.6 L1865.1,861.2 L1865.9,863.1 L1866.6,865 L1867.4,866.7 L1868.2,868.2 L1869.1,869.2 L1870.1,869.8 L1871.1,869.8 L1872.2,869.3" fill="none" stroke="#3a9a96" stroke-width="1.1" stroke-linecap="round" transform="translate(-0.9,-0.8)" opacity="0.65"/>
<path d="M1822.7,862.3 L1822.7,864.3 L1822.8,866.2 L1823,867.8 L1823.5,869.1 L1824.2,869.9 L1825.1,870.2 L1826.4,870.1 L1827.8,869.7 L1829.5,868.9 L1831.2,867.9 L1833,866.9 L1834.7,866 L1836.3,865.3 L1837.7,865 L1838.8,865.1 L1839.7,865.7 L1840.3,866.7 L1840.6,868.1 L1840.8,869.8 L1840.8,871.8 L1840.8,873.8 L1840.8,875.8 L1840.9,877.6 L1841.3,879.1 L1841.8,880.1 L1842.6,880.7 L1843.7,880.9 L1845.1,880.6 L1846.6,880 L1848.3,879.1 L1850.1,878.1 L1851.9,877.2 L1853.5,876.4 L1855,875.8 L1856.3,875.7 L1857.3,876 L1858.1,876.7 L1858.5,877.9 L1858.8,879.5 L1858.9,881.3 L1858.9,883.3 L1858.9,885.4 L1858.9,887.3 L1859.1,888.9 L1859.6,890.2 L1860.2,891.1 L1861.2,891.5 L1862.4,891.5" fill="none" stroke="#143836" stroke-width="3.6" stroke-linecap="round" stroke-linejoin="round"/>
<path d="M1822.7,862.3 L1822.7,864.3 L1822.8,866.2 L1823,867.8 L1823.5,869.1 L1824.2,869.9 L1825.1,870.2 L1826.4,870.1 L1827.8,869.7 L1829.5,868.9 L1831.2,867.9 L1833,866.9 L1834.7,866 L1836.3,865.3 L1837.7,865 L1838.8,865.1 L1839.7,865.7 L1840.3,866.7 L1840.6,868.1 L1840.8,869.8 L1840.8,871.8 L1840.8,873.8 L1840.8,875.8 L1840.9,877.6 L1841.3,879.1 L1841.8,880.1 L1842.6,880.7 L1843.7,880.9 L1845.1,880.6 L1846.6,880 L1848.3,879.1 L1850.1,878.1 L1851.9,877.2 L1853.5,876.4 L1855,875.8 L1856.3,875.7 L1857.3,876 L1858.1,876.7 L1858.5,877.9 L1858.8,879.5 L1858.9,881.3 L1858.9,883.3 L1858.9,885.4 L1858.9,887.3 L1859.1,888.9 L1859.6,890.2 L1860.2,891.1 L1861.2,891.5 L1862.4,891.5" fill="none" stroke="#3a9a96" stroke-width="1.1" stroke-linecap="round" transform="translate(-0.9,-0.8)" opacity="0.65"/>
<path d="M1819.3,866.1 L1818.5,867.9 L1817.9,869.7 L1817.5,871.3 L1817.4,872.6 L1817.8,873.6 L1818.5,874.3 L1819.7,874.7 L1821.3,874.8 L1823.1,874.8 L1825.1,874.5 L1827.1,874.3 L1829,874.1 L1830.7,874.1 L1832.1,874.3 L1833.1,874.9 L1833.7,875.7 L1833.9,876.8 L1833.7,878.3 L1833.1,880 L1832.4,881.8 L1831.6,883.7 L1830.9,885.5 L1830.3,887.2 L1830.1,888.7 L1830.2,889.9 L1830.7,890.8 L1831.6,891.3 L1833,891.6 L1834.7,891.6 L1836.6,891.4 L1838.6,891.2 L1840.6,891 L1842.4,890.9 L1844,890.9 L1845.2,891.3 L1846.1,891.9 L1846.5,892.9 L1846.5,894.2 L1846.1,895.8 L1845.5,897.5 L1844.7,899.4 L1843.9,901.2 L1843.3,903 L1842.8,904.6 L1842.7,906 L1843,907.1 L1843.7,907.8 L1844.8,908.2" fill="none" stroke="#143836" stroke-width="3.6" stroke-linecap="round" stroke-linejoin="round"/>
<path d="M1819.3,866.1 L1818.5,867.9 L1817.9,869.7 L1817.5,871.3 L1817.4,872.6 L1817.8,873.6 L1818.5,874.3 L1819.7,874.7 L1821.3,874.8 L1823.1,874.8 L1825.1,874.5 L1827.1,874.3 L1829,874.1 L1830.7,874.1 L1832.1,874.3 L1833.1,874.9 L1833.7,875.7 L1833.9,876.8 L1833.7,878.3 L1833.1,880 L1832.4,881.8 L1831.6,883.7 L1830.9,885.5 L1830.3,887.2 L1830.1,888.7 L1830.2,889.9 L1830.7,890.8 L1831.6,891.3 L1833,891.6 L1834.7,891.6 L1836.6,891.4 L1838.6,891.2 L1840.6,891 L1842.4,890.9 L1844,890.9 L1845.2,891.3 L1846.1,891.9 L1846.5,892.9 L1846.5,894.2 L1846.1,895.8 L1845.5,897.5 L1844.7,899.4 L1843.9,901.2 L1843.3,903 L1842.8,904.6 L1842.7,906 L1843,907.1 L1843.7,907.8 L1844.8,908.2" fill="none" stroke="#3a9a96" stroke-width="1.1" stroke-linecap="round" transform="translate(-0.9,-0.8)" opacity="0.65"/>
<path d="M1814.8,868.3 L1813.2,869.8 L1811.9,871.3 L1810.9,872.7 L1810.4,874 L1810.5,875.1 L1811.3,876 L1812.6,876.8 L1814.3,877.5 L1816.3,878.2 L1818.4,878.7 L1820.5,879.4 L1822.2,880 L1823.5,880.9 L1824.2,881.8 L1824.4,882.9 L1823.9,884.2 L1822.9,885.6 L1821.6,887 L1820,888.6 L1818.5,890.1 L1817.1,891.6 L1816.2,893 L1815.7,894.3 L1815.8,895.4 L1816.5,896.3 L1817.8,897.2 L1819.5,897.9 L1821.5,898.5 L1823.6,899.1 L1825.7,899.7 L1827.4,900.4 L1828.7,901.2 L1829.5,902.1 L1829.6,903.2 L1829.2,904.5 L1828.2,905.9 L1826.9,907.4 L1825.3,908.9 L1823.8,910.4 L1822.4,911.9 L1821.4,913.3 L1820.9,914.6 L1821,915.7 L1821.7,916.7 L1823,917.5 L1824.7,918.2 L1826.7,918.8 L1828.9,919.4" fill="none" stroke="#143836" stroke-width="3.6" stroke-linecap="round" stroke-linejoin="round"/>
<path d="M1814.8,868.3 L1813.2,869.8 L1811.9,871.3 L1810.9,872.7 L1810.4,874 L1810.5,875.1 L1811.3,876 L1812.6,876.8 L1814.3,877.5 L1816.3,878.2 L1818.4,878.7 L1820.5,879.4 L1822.2,880 L1823.5,880.9 L1824.2,881.8 L1824.4,882.9 L1823.9,884.2 L1822.9,885.6 L1821.6,887 L1820,888.6 L1818.5,890.1 L1817.1,891.6 L1816.2,893 L1815.7,894.3 L1815.8,895.4 L1816.5,896.3 L1817.8,897.2 L1819.5,897.9 L1821.5,898.5 L1823.6,899.1 L1825.7,899.7 L1827.4,900.4 L1828.7,901.2 L1829.5,902.1 L1829.6,903.2 L1829.2,904.5 L1828.2,905.9 L1826.9,907.4 L1825.3,908.9 L1823.8,910.4 L1822.4,911.9 L1821.4,913.3 L1820.9,914.6 L1821,915.7 L1821.7,916.7 L1823,917.5 L1824.7,918.2 L1826.7,918.8 L1828.9,919.4" fill="none" stroke="#3a9a96" stroke-width="1.1" stroke-linecap="round" transform="translate(-0.9,-0.8)" opacity="0.65"/>
<path d="M1809.7,868.6 L1807.7,869.4 L1805.9,870.3 L1804.4,871.2 L1803.5,872.2 L1803.2,873.2 L1803.5,874.4 L1804.4,875.6 L1805.7,876.9 L1807.3,878.3 L1809.1,879.6 L1810.7,881 L1812.1,882.3 L1812.9,883.5 L1813.3,884.7 L1813,885.8 L1812.1,886.7 L1810.6,887.7 L1808.8,888.5 L1806.8,889.4 L1804.8,890.2 L1803,891 L1801.5,892 L1800.6,892.9 L1800.3,894 L1800.6,895.2 L1801.4,896.4 L1802.8,897.7 L1804.4,899 L1806.1,900.4 L1807.8,901.8 L1809.1,903.1 L1810,904.3 L1810.3,905.5 L1810,906.5 L1809.2,907.5 L1807.7,908.4 L1805.9,909.3 L1803.9,910.1 L1801.9,911 L1800.1,911.8 L1798.6,912.7 L1797.7,913.7 L1797.4,914.8 L1797.6,915.9 L1798.5,917.2 L1799.8,918.5 L1801.4,919.8 L1803.2,921.2" fill="none" stroke="#143836" stroke-width="3.6" stroke-linecap="round" stroke-linejoin="round"/>
<path d="M1809.7,868.6 L1807.7,869.4 L1805.9,870.3 L1804.4,871.2 L1803.5,872.2 L1803.2,873.2 L1803.5,874.4 L1804.4,875.6 L1805.7,876.9 L1807.3,878.3 L1809.1,879.6 L1810.7,881 L1812.1,882.3 L1812.9,883.5 L1813.3,884.7 L1813,885.8 L1812.1,886.7 L1810.6,887.7 L1808.8,888.5 L1806.8,889.4 L1804.8,890.2 L1803,891 L1801.5,892 L1800.6,892.9 L1800.3,894 L1800.6,895.2 L1801.4,896.4 L1802.8,897.7 L1804.4,899 L1806.1,900.4 L1807.8,901.8 L1809.1,903.1 L1810,904.3 L1810.3,905.5 L1810,906.5 L1809.2,907.5 L1807.7,908.4 L1805.9,909.3 L1803.9,910.1 L1801.9,911 L1800.1,911.8 L1798.6,912.7 L1797.7,913.7 L1797.4,914.8 L1797.6,915.9 L1798.5,917.2 L1799.8,918.5 L1801.4,919.8 L1803.2,921.2" fill="none" stroke="#3a9a96" stroke-width="1.1" stroke-linecap="round" transform="translate(-0.9,-0.8)" opacity="0.65"/>
<path d="M1804.9,866.9 L1802.9,866.9 L1801,867 L1799.4,867.2 L1798.1,867.7 L1797.3,868.4 L1797,869.3 L1797.1,870.6 L1797.5,872 L1798.3,873.7 L1799.3,875.4 L1800.3,877.2 L1801.2,878.9 L1801.9,880.5 L1802.2,881.9 L1802.1,883 L1801.5,883.9 L1800.5,884.5 L1799.1,884.8 L1797.4,885 L1795.4,885 L1793.4,885 L1791.4,885 L1789.6,885.1 L1788.1,885.5 L1787.1,886 L1786.5,886.8 L1786.3,887.9 L1786.6,889.3 L1787.2,890.8 L1788.1,892.5 L1789.1,894.3 L1790,896.1 L1790.8,897.7 L1791.4,899.2 L1791.5,900.5 L1791.2,901.5 L1790.5,902.3 L1789.3,902.7 L1787.7,903 L1785.9,903.1 L1783.9,903.1 L1781.8,903.1 L1779.9,903.1 L1778.3,903.3 L1777,903.8 L1776.1,904.4 L1775.7,905.4 L1775.7,906.6" fill="none" stroke="#143836" stroke-width="3.6" stroke-linecap="round" stroke-linejoin="round"/>
<path d="M1804.9,866.9 L1802.9,866.9 L1801,867 L1799.4,867.2 L1798.1,867.7 L1797.3,868.4 L1797,869.3 L1797.1,870.6 L1797.5,872 L1798.3,873.7 L1799.3,875.4 L1800.3,877.2 L1801.2,878.9 L1801.9,880.5 L1802.2,881.9 L1802.1,883 L1801.5,883.9 L1800.5,884.5 L1799.1,884.8 L1797.4,885 L1795.4,885 L1793.4,885 L1791.4,885 L1789.6,885.1 L1788.1,885.5 L1787.1,886 L1786.5,886.8 L1786.3,887.9 L1786.6,889.3 L1787.2,890.8 L1788.1,892.5 L1789.1,894.3 L1790,896.1 L1790.8,897.7 L1791.4,899.2 L1791.5,900.5 L1791.2,901.5 L1790.5,902.3 L1789.3,902.7 L1787.7,903 L1785.9,903.1 L1783.9,903.1 L1781.8,903.1 L1779.9,903.1 L1778.3,903.3 L1777,903.8 L1776.1,904.4 L1775.7,905.4 L1775.7,906.6" fill="none" stroke="#3a9a96" stroke-width="1.1" stroke-linecap="round" transform="translate(-0.9,-0.8)" opacity="0.65"/>
<path d="M1801.1,863.5 L1799.3,862.7 L1797.5,862.1 L1795.9,861.7 L1794.6,861.6 L1793.6,862 L1792.9,862.7 L1792.5,863.9 L1792.4,865.5 L1792.4,867.3 L1792.7,869.3 L1792.9,871.3 L1793.1,873.2 L1793.1,874.9 L1792.9,876.3 L1792.3,877.3 L1791.5,877.9 L1790.4,878.1 L1788.9,877.9 L1787.2,877.3 L1785.4,876.6 L1783.5,875.8 L1781.7,875.1 L1780,874.5 L1778.5,874.3 L1777.3,874.4 L1776.4,874.9 L1775.9,875.8 L1775.6,877.2 L1775.6,878.9 L1775.8,880.8 L1776,882.8 L1776.2,884.8 L1776.3,886.6 L1776.3,888.2 L1775.9,889.4 L1775.3,890.3 L1774.3,890.7 L1773,890.7 L1771.4,890.3 L1769.7,889.7 L1767.8,888.9 L1766,888.1 L1764.2,887.5 L1762.6,887 L1761.2,886.9 L1760.1,887.2 L1759.4,887.9 L1759,889" fill="none" stroke="#143836" stroke-width="3.6" stroke-linecap="round" stroke-linejoin="round"/>
<path d="M1801.1,863.5 L1799.3,862.7 L1797.5,862.1 L1795.9,861.7 L1794.6,861.6 L1793.6,862 L1792.9,862.7 L1792.5,863.9 L1792.4,865.5 L1792.4,867.3 L1792.7,869.3 L1792.9,871.3 L1793.1,873.2 L1793.1,874.9 L1792.9,876.3 L1792.3,877.3 L1791.5,877.9 L1790.4,878.1 L1788.9,877.9 L1787.2,877.3 L1785.4,876.6 L1783.5,875.8 L1781.7,875.1 L1780,874.5 L1778.5,874.3 L1777.3,874.4 L1776.4,874.9 L1775.9,875.8 L1775.6,877.2 L1775.6,878.9 L1775.8,880.8 L1776,882.8 L1776.2,884.8 L1776.3,886.6 L1776.3,888.2 L1775.9,889.4 L1775.3,890.3 L1774.3,890.7 L1773,890.7 L1771.4,890.3 L1769.7,889.7 L1767.8,888.9 L1766,888.1 L1764.2,887.5 L1762.6,887 L1761.2,886.9 L1760.1,887.2 L1759.4,887.9 L1759,889" fill="none" stroke="#3a9a96" stroke-width="1.1" stroke-linecap="round" transform="translate(-0.9,-0.8)" opacity="0.65"/>
<path d="M1798.9,859 L1797.5,857.5 L1796.1,856.2 L1794.8,855.3 L1793.6,854.7 L1792.5,854.6 L1791.6,855.1 L1790.8,856 L1790.1,857.4 L1789.5,859.1 L1788.9,861 L1788.4,863 L1787.8,864.8 L1787.1,866.4 L1786.4,867.6 L1785.5,868.4 L1784.5,868.6 L1783.4,868.3 L1782.2,867.5 L1780.8,866.4 L1779.4,865 L1778,863.6 L1776.6,862.2 L1775.2,861 L1773.9,860.2 L1772.8,859.9 L1771.8,860 L1770.9,860.7 L1770.1,861.8 L1769.5,863.4 L1768.9,865.2 L1768.3,867.1 L1767.8,869.1 L1767.2,870.8 L1766.5,872.2 L1765.7,873.3 L1764.8,873.8 L1763.7,873.8 L1762.5,873.3 L1761.3,872.3 L1759.9,871.1 L1758.5,869.7 L1757,868.2 L1755.6,866.9 L1754.3,865.9 L1753.1,865.3 L1752,865.1 L1751,865.5 L1750.2,866.4" fill="none" stroke="#143836" stroke-width="3.6" stroke-linecap="round" stroke-linejoin="round"/>
<path d="M1798.9,859 L1797.5,857.5 L1796.1,856.2 L1794.8,855.3 L1793.6,854.7 L1792.5,854.6 L1791.6,855.1 L1790.8,856 L1790.1,857.4 L1789.5,859.1 L1788.9,861 L1788.4,863 L1787.8,864.8 L1787.1,866.4 L1786.4,867.6 L1785.5,868.4 L1784.5,868.6 L1783.4,868.3 L1782.2,867.5 L1780.8,866.4 L1779.4,865 L1778,863.6 L1776.6,862.2 L1775.2,861 L1773.9,860.2 L1772.8,859.9 L1771.8,860 L1770.9,860.7 L1770.1,861.8 L1769.5,863.4 L1768.9,865.2 L1768.3,867.1 L1767.8,869.1 L1767.2,870.8 L1766.5,872.2 L1765.7,873.3 L1764.8,873.8 L1763.7,873.8 L1762.5,873.3 L1761.3,872.3 L1759.9,871.1 L1758.5,869.7 L1757,868.2 L1755.6,866.9 L1754.3,865.9 L1753.1,865.3 L1752,865.1 L1751,865.5 L1750.2,866.4" fill="none" stroke="#3a9a96" stroke-width="1.1" stroke-linecap="round" transform="translate(-0.9,-0.8)" opacity="0.65"/>
<path d="M1798.6,853.9 L1797.9,852 L1797.1,850.3 L1796.2,848.9 L1795.3,847.9 L1794.4,847.4 L1793.3,847.5 L1792.2,848.1 L1791.1,849.1 L1789.8,850.4 L1788.6,852 L1787.3,853.6 L1786.1,855.1 L1784.9,856.3 L1783.7,857.1 L1782.7,857.5 L1781.7,857.3 L1780.7,856.6 L1779.9,855.4 L1779,853.8 L1778.3,852 L1777.5,850.2 L1776.7,848.3 L1775.9,846.7 L1775.1,845.5 L1774.1,844.7 L1773.1,844.5 L1772.1,844.7 L1770.9,845.5 L1769.7,846.7 L1768.5,848.1 L1767.3,849.7 L1766,851.3 L1764.8,852.7 L1763.6,853.8 L1762.5,854.4 L1761.4,854.5 L1760.5,854.1 L1759.6,853.2 L1758.7,851.8 L1757.9,850.2 L1757.1,848.3 L1756.4,846.4 L1755.6,844.7 L1754.8,843.2 L1753.9,842.2 L1752.9,841.6 L1751.9,841.6 L1750.8,842.1" fill="none" stroke="#143836" stroke-width="3.6" stroke-linecap="round" stroke-linejoin="round"/>
<path d="M1798.6,853.9 L1797.9,852 L1797.1,850.3 L1796.2,848.9 L1795.3,847.9 L1794.4,847.4 L1793.3,847.5 L1792.2,848.1 L1791.1,849.1 L1789.8,850.4 L1788.6,852 L1787.3,853.6 L1786.1,855.1 L1784.9,856.3 L1783.7,857.1 L1782.7,857.5 L1781.7,857.3 L1780.7,856.6 L1779.9,855.4 L1779,853.8 L1778.3,852 L1777.5,850.2 L1776.7,848.3 L1775.9,846.7 L1775.1,845.5 L1774.1,844.7 L1773.1,844.5 L1772.1,844.7 L1770.9,845.5 L1769.7,846.7 L1768.5,848.1 L1767.3,849.7 L1766,851.3 L1764.8,852.7 L1763.6,853.8 L1762.5,854.4 L1761.4,854.5 L1760.5,854.1 L1759.6,853.2 L1758.7,851.8 L1757.9,850.2 L1757.1,848.3 L1756.4,846.4 L1755.6,844.7 L1754.8,843.2 L1753.9,842.2 L1752.9,841.6 L1751.9,841.6 L1750.8,842.1" fill="none" stroke="#3a9a96" stroke-width="1.1" stroke-linecap="round" transform="translate(-0.9,-0.8)" opacity="0.65"/>
<path d="M1800.3,849.1 L1800.3,847.1 L1800.2,845.2 L1800,843.6 L1799.5,842.3 L1798.8,841.5 L1797.9,841.2 L1796.6,841.3 L1795.2,841.7 L1793.5,842.5 L1791.8,843.5 L1790,844.5 L1788.3,845.4 L1786.7,846.1 L1785.3,846.4 L1784.2,846.3 L1783.3,845.7 L1782.7,844.7 L1782.4,843.3 L1782.2,841.6 L1782.2,839.6 L1782.2,837.6 L1782.2,835.6 L1782.1,833.8 L1781.7,832.3 L1781.2,831.3 L1780.4,830.7 L1779.3,830.5 L1777.9,830.8 L1776.4,831.4 L1774.7,832.3 L1772.9,833.3 L1771.1,834.2 L1769.5,835 L1768,835.6 L1766.7,835.7 L1765.7,835.4 L1764.9,834.7 L1764.5,833.5 L1764.2,831.9 L1764.1,830.1 L1764.1,828.1 L1764.1,826 L1764.1,824.1 L1763.9,822.5 L1763.4,821.2 L1762.8,820.3 L1761.8,819.9 L1760.6,819.9" fill="none" stroke="#143836" stroke-width="3.6" stroke-linecap="round" stroke-linejoin="round"/>
<path d="M1800.3,849.1 L1800.3,847.1 L1800.2,845.2 L1800,843.6 L1799.5,842.3 L1798.8,841.5 L1797.9,841.2 L1796.6,841.3 L1795.2,841.7 L1793.5,842.5 L1791.8,843.5 L1790,844.5 L1788.3,845.4 L1786.7,846.1 L1785.3,846.4 L1784.2,846.3 L1783.3,845.7 L1782.7,844.7 L1782.4,843.3 L1782.2,841.6 L1782.2,839.6 L1782.2,837.6 L1782.2,835.6 L1782.1,833.8 L1781.7,832.3 L1781.2,831.3 L1780.4,830.7 L1779.3,830.5 L1777.9,830.8 L1776.4,831.4 L1774.7,832.3 L1772.9,833.3 L1771.1,834.2 L1769.5,835 L1768,835.6 L1766.7,835.7 L1765.7,835.4 L1764.9,834.7 L1764.5,833.5 L1764.2,831.9 L1764.1,830.1 L1764.1,828.1 L1764.1,826 L1764.1,824.1 L1763.9,822.5 L1763.4,821.2 L1762.8,820.3 L1761.8,819.9 L1760.6,819.9" fill="none" stroke="#3a9a96" stroke-width="1.1" stroke-linecap="round" transform="translate(-0.9,-0.8)" opacity="0.65"/>
<path d="M1803.7,845.3 L1804.5,843.5 L1805.1,841.7 L1805.5,840.1 L1805.6,838.8 L1805.2,837.8 L1804.5,837.1 L1803.3,836.7 L1801.7,836.6 L1799.9,836.6 L1797.9,836.9 L1795.9,837.1 L1794,837.3 L1792.3,837.3 L1790.9,837.1 L1789.9,836.5 L1789.3,835.7 L1789.1,834.6 L1789.3,833.1 L1789.9,831.4 L1790.6,829.6 L1791.4,827.7 L1792.1,825.9 L1792.7,824.2 L1792.9,822.7 L1792.8,821.5 L1792.3,820.6 L1791.4,820.1 L1790,819.8 L1788.3,819.8 L1786.4,820 L1784.4,820.2 L1782.4,820.4 L1780.6,820.5 L1779,820.5 L1777.8,820.1 L1776.9,819.5 L1776.5,818.5 L1776.5,817.2 L1776.9,815.6 L1777.5,813.9 L1778.3,812 L1779.1,810.2 L1779.7,808.4 L1780.2,806.8 L1780.3,805.4 L1780,804.3 L1779.3,803.6 L1778.2,803.2" fill="none" stroke="#143836" stroke-width="3.6" stroke-linecap="round" stroke-linejoin="round"/>
<path d="M1803.7,845.3 L1804.5,843.5 L1805.1,841.7 L1805.5,840.1 L1805.6,838.8 L1805.2,837.8 L1804.5,837.1 L1803.3,836.7 L1801.7,836.6 L1799.9,836.6 L1797.9,836.9 L1795.9,837.1 L1794,837.3 L1792.3,837.3 L1790.9,837.1 L1789.9,836.5 L1789.3,835.7 L1789.1,834.6 L1789.3,833.1 L1789.9,831.4 L1790.6,829.6 L1791.4,827.7 L1792.1,825.9 L1792.7,824.2 L1792.9,822.7 L1792.8,821.5 L1792.3,820.6 L1791.4,820.1 L1790,819.8 L1788.3,819.8 L1786.4,820 L1784.4,820.2 L1782.4,820.4 L1780.6,820.5 L1779,820.5 L1777.8,820.1 L1776.9,819.5 L1776.5,818.5 L1776.5,817.2 L1776.9,815.6 L1777.5,813.9 L1778.3,812 L1779.1,810.2 L1779.7,808.4 L1780.2,806.8 L1780.3,805.4 L1780,804.3 L1779.3,803.6 L1778.2,803.2" fill="none" stroke="#3a9a96" stroke-width="1.1" stroke-linecap="round" transform="translate(-0.9,-0.8)" opacity="0.65"/>
<path d="M1808.2,843.1 L1809.7,841.7 L1811,840.3 L1811.9,839 L1812.5,837.8 L1812.6,836.7 L1812.1,835.8 L1811.2,835 L1809.8,834.3 L1808.1,833.7 L1806.2,833.1 L1804.2,832.6 L1802.4,832 L1800.8,831.3 L1799.6,830.6 L1798.8,829.7 L1798.6,828.7 L1798.9,827.6 L1799.7,826.4 L1800.8,825 L1802.2,823.6 L1803.6,822.2 L1805,820.8 L1806.2,819.4 L1807,818.1 L1807.3,817 L1807.2,816 L1806.5,815.1 L1805.4,814.3 L1803.8,813.7 L1802,813.1 L1800.1,812.5 L1798.1,812 L1796.4,811.4 L1795,810.7 L1793.9,809.9 L1793.4,809 L1793.4,807.9 L1793.9,806.7 L1794.9,805.5 L1796.1,804.1 L1797.5,802.7 L1799,801.2 L1800.3,799.8 L1801.3,798.5 L1801.9,797.3 L1802.1,796.2 L1801.7,795.2 L1800.8,794.4" fill="none" stroke="#143836" stroke-width="3.6" stroke-linecap="round" stroke-linejoin="round"/>
<path d="M1808.2,843.1 L1809.7,841.7 L1811,840.3 L1811.9,839 L1812.5,837.8 L1812.6,836.7 L1812.1,835.8 L1811.2,835 L1809.8,834.3 L1808.1,833.7 L1806.2,833.1 L1804.2,832.6 L1802.4,832 L1800.8,831.3 L1799.6,830.6 L1798.8,829.7 L1798.6,828.7 L1798.9,827.6 L1799.7,826.4 L1800.8,825 L1802.2,823.6 L1803.6,822.2 L1805,820.8 L1806.2,819.4 L1807,818.1 L1807.3,817 L1807.2,816 L1806.5,815.1 L1805.4,814.3 L1803.8,813.7 L1802,813.1 L1800.1,812.5 L1798.1,812 L1796.4,811.4 L1795,810.7 L1793.9,809.9 L1793.4,809 L1793.4,807.9 L1793.9,806.7 L1794.9,805.5 L1796.1,804.1 L1797.5,802.7 L1799,801.2 L1800.3,799.8 L1801.3,798.5 L1801.9,797.3 L1802.1,796.2 L1801.7,795.2 L1800.8,794.4" fill="none" stroke="#3a9a96" stroke-width="1.1" stroke-linecap="round" transform="translate(-0.9,-0.8)" opacity="0.65"/>
<path d="M1813.3,842.8 L1815.2,842.1 L1816.9,841.3 L1818.3,840.4 L1819.3,839.5 L1819.8,838.6 L1819.7,837.5 L1819.1,836.4 L1818.1,835.3 L1816.8,834 L1815.2,832.8 L1813.6,831.5 L1812.1,830.3 L1810.9,829.1 L1810.1,827.9 L1809.7,826.9 L1809.9,825.9 L1810.6,824.9 L1811.8,824.1 L1813.4,823.2 L1815.2,822.5 L1817,821.7 L1818.9,820.9 L1820.5,820.1 L1821.7,819.3 L1822.5,818.3 L1822.7,817.3 L1822.5,816.3 L1821.7,815.1 L1820.5,813.9 L1819.1,812.7 L1817.5,811.5 L1815.9,810.2 L1814.5,809 L1813.4,807.8 L1812.8,806.7 L1812.7,805.6 L1813.1,804.7 L1814,803.8 L1815.4,802.9 L1817,802.1 L1818.9,801.3 L1820.8,800.6 L1822.5,799.8 L1824,799 L1825,798.1 L1825.6,797.1 L1825.6,796.1 L1825.1,795" fill="none" stroke="#143836" stroke-width="3.6" stroke-linecap="round" stroke-linejoin="round"/>
<path d="M1813.3,842.8 L1815.2,842.1 L1816.9,841.3 L1818.3,840.4 L1819.3,839.5 L1819.8,838.6 L1819.7,837.5 L1819.1,836.4 L1818.1,835.3 L1816.8,834 L1815.2,832.8 L1813.6,831.5 L1812.1,830.3 L1810.9,829.1 L1810.1,827.9 L1809.7,826.9 L1809.9,825.9 L1810.6,824.9 L1811.8,824.1 L1813.4,823.2 L1815.2,822.5 L1817,821.7 L1818.9,820.9 L1820.5,820.1 L1821.7,819.3 L1822.5,818.3 L1822.7,817.3 L1822.5,816.3 L1821.7,815.1 L1820.5,813.9 L1819.1,812.7 L1817.5,811.5 L1815.9,810.2 L1814.5,809 L1813.4,807.8 L1812.8,806.7 L1812.7,805.6 L1813.1,804.7 L1814,803.8 L1815.4,802.9 L1817,802.1 L1818.9,801.3 L1820.8,800.6 L1822.5,799.8 L1824,799 L1825,798.1 L1825.6,797.1 L1825.6,796.1 L1825.1,795" fill="none" stroke="#3a9a96" stroke-width="1.1" stroke-linecap="round" transform="translate(-0.9,-0.8)" opacity="0.65"/>
<path d="M1818.1,844.5 L1820.1,844.5 L1822,844.4 L1823.6,844.2 L1824.9,843.7 L1825.7,843 L1826,842.1 L1825.9,840.8 L1825.5,839.4 L1824.7,837.7 L1823.7,836 L1822.7,834.2 L1821.8,832.5 L1821.1,830.9 L1820.8,829.5 L1820.9,828.4 L1821.5,827.5 L1822.5,826.9 L1823.9,826.6 L1825.6,826.4 L1827.6,826.4 L1829.6,826.4 L1831.6,826.4 L1833.4,826.3 L1834.9,825.9 L1835.9,825.4 L1836.5,824.6 L1836.7,823.5 L1836.4,822.1 L1835.8,820.6 L1834.9,818.9 L1833.9,817.1 L1833,815.3 L1832.2,813.7 L1831.6,812.2 L1831.5,810.9 L1831.8,809.9 L1832.5,809.1 L1833.7,808.7 L1835.3,808.4 L1837.1,808.3 L1839.1,808.3 L1841.2,808.3 L1843.1,808.3 L1844.7,808.1 L1846,807.6 L1846.9,807 L1847.3,806 L1847.3,804.8" fill="none" stroke="#143836" stroke-width="3.6" stroke-linecap="round" stroke-linejoin="round"/>
<path d="M1818.1,844.5 L1820.1,844.5 L1822,844.4 L1823.6,844.2 L1824.9,843.7 L1825.7,843 L1826,842.1 L1825.9,840.8 L1825.5,839.4 L1824.7,837.7 L1823.7,836 L1822.7,834.2 L1821.8,832.5 L1821.1,830.9 L1820.8,829.5 L1820.9,828.4 L1821.5,827.5 L1822.5,826.9 L1823.9,826.6 L1825.6,826.4 L1827.6,826.4 L1829.6,826.4 L1831.6,826.4 L1833.4,826.3 L1834.9,825.9 L1835.9,825.4 L1836.5,824.6 L1836.7,823.5 L1836.4,822.1 L1835.8,820.6 L1834.9,818.9 L1833.9,817.1 L1833,815.3 L1832.2,813.7 L1831.6,812.2 L1831.5,810.9 L1831.8,809.9 L1832.5,809.1 L1833.7,808.7 L1835.3,808.4 L1837.1,808.3 L1839.1,808.3 L1841.2,808.3 L1843.1,808.3 L1844.7,808.1 L1846,807.6 L1846.9,807 L1847.3,806 L1847.3,804.8" fill="none" stroke="#3a9a96" stroke-width="1.1" stroke-linecap="round" transform="translate(-0.9,-0.8)" opacity="0.65"/>
<path d="M1821.9,847.9 L1823.7,848.7 L1825.5,849.3 L1827.1,849.7 L1828.4,849.8 L1829.4,849.4 L1830.1,848.7 L1830.5,847.5 L1830.6,845.9 L1830.6,844.1 L1830.3,842.1 L1830.1,840.1 L1829.9,838.2 L1829.9,836.5 L1830.1,835.1 L1830.7,834.1 L1831.5,833.5 L1832.6,833.3 L1834.1,833.5 L1835.8,834.1 L1837.6,834.8 L1839.5,835.6 L1841.3,836.3 L1843,836.9 L1844.5,837.1 L1845.7,837 L1846.6,836.5 L1847.1,835.6 L1847.4,834.2 L1847.4,832.5 L1847.2,830.6 L1847,828.6 L1846.8,826.6 L1846.7,824.8 L1846.7,823.2 L1847.1,822 L1847.7,821.1 L1848.7,820.7 L1850,820.7 L1851.6,821.1 L1853.3,821.7 L1855.2,822.5 L1857,823.3 L1858.8,823.9 L1860.4,824.4 L1861.8,824.5 L1862.9,824.2 L1863.6,823.5 L1864,822.4" fill="none" stroke="#143836" stroke-width="3.6" stroke-linecap="round" stroke-linejoin="round"/>
<path d="M1821.9,847.9 L1823.7,848.7 L1825.5,849.3 L1827.1,849.7 L1828.4,849.8 L1829.4,849.4 L1830.1,848.7 L1830.5,847.5 L1830.6,845.9 L1830.6,844.1 L1830.3,842.1 L1830.1,840.1 L1829.9,838.2 L1829.9,836.5 L1830.1,835.1 L1830.7,834.1 L1831.5,833.5 L1832.6,833.3 L1834.1,833.5 L1835.8,834.1 L1837.6,834.8 L1839.5,835.6 L1841.3,836.3 L1843,836.9 L1844.5,837.1 L1845.7,837 L1846.6,836.5 L1847.1,835.6 L1847.4,834.2 L1847.4,832.5 L1847.2,830.6 L1847,828.6 L1846.8,826.6 L1846.7,824.8 L1846.7,823.2 L1847.1,822 L1847.7,821.1 L1848.7,820.7 L1850,820.7 L1851.6,821.1 L1853.3,821.7 L1855.2,822.5 L1857,823.3 L1858.8,823.9 L1860.4,824.4 L1861.8,824.5 L1862.9,824.2 L1863.6,823.5 L1864,822.4" fill="none" stroke="#3a9a96" stroke-width="1.1" stroke-linecap="round" transform="translate(-0.9,-0.8)" opacity="0.65"/>
<path d="M1824.1,852.4 L1825.5,853.9 L1826.9,855.2 L1828.2,856.1 L1829.4,856.7 L1830.5,856.8 L1831.4,856.3 L1832.2,855.4 L1832.9,854 L1833.5,852.3 L1834.1,850.4 L1834.6,848.4 L1835.2,846.6 L1835.9,845 L1836.6,843.8 L1837.5,843 L1838.5,842.8 L1839.6,843.1 L1840.8,843.9 L1842.2,845 L1843.6,846.4 L1845,847.8 L1846.4,849.2 L1847.8,850.4 L1849.1,851.2 L1850.2,851.5 L1851.2,851.4 L1852.1,850.7 L1852.9,849.6 L1853.5,848 L1854.1,846.2 L1854.7,844.3 L1855.2,842.3 L1855.8,840.6 L1856.5,839.2 L1857.3,838.1 L1858.2,837.6 L1859.3,837.6 L1860.5,838.1 L1861.7,839.1 L1863.1,840.3 L1864.5,841.7 L1866,843.2 L1867.4,844.5 L1868.7,845.5 L1869.9,846.1 L1871,846.3 L1872,845.9 L1872.8,845" fill="none" stroke="#143836" stroke-width="3.6" stroke-linecap="round" stroke-linejoin="round"/>
<path d="M1824.1,852.4 L1825.5,853.9 L1826.9,855.2 L1828.2,856.1 L1829.4,856.7 L1830.5,856.8 L1831.4,856.3 L1832.2,855.4 L1832.9,854 L1833.5,852.3 L1834.1,850.4 L1834.6,848.4 L1835.2,846.6 L1835.9,845 L1836.6,843.8 L1837.5,843 L1838.5,842.8 L1839.6,843.1 L1840.8,843.9 L1842.2,845 L1843.6,846.4 L1845,847.8 L1846.4,849.2 L1847.8,850.4 L1849.1,851.2 L1850.2,851.5 L1851.2,851.4 L1852.1,850.7 L1852.9,849.6 L1853.5,848 L1854.1,846.2 L1854.7,844.3 L1855.2,842.3 L1855.8,840.6 L1856.5,839.2 L1857.3,838.1 L1858.2,837.6 L1859.3,837.6 L1860.5,838.1 L1861.7,839.1 L1863.1,840.3 L1864.5,841.7 L1866,843.2 L1867.4,844.5 L1868.7,845.5 L1869.9,846.1 L1871,846.3 L1872,845.9 L1872.8,845" fill="none" stroke="#3a9a96" stroke-width="1.1" stroke-linecap="round" transform="translate(-0.9,-0.8)" opacity="0.65"/>
<circle cx="1811.5" cy="855.7" r="14" fill="none" stroke="#1d5250" stroke-width="3.2"/>
<text x="1905.1" y="967.3" font-family="'Liberation Sans', Arial, sans-serif" font-size="30.7" text-anchor="start" textLength="65" lengthAdjust="spacingAndGlyphs">L-PA</text>
<text x="1471.3" y="592" font-family="'Liberation Sans', Arial, sans-serif" font-size="27.5" text-anchor="start" textLength="56.5" lengthAdjust="spacingAndGlyphs">SAM</text>
<text x="1459" y="672.2" font-family="'Liberation Sans', Arial, sans-serif" font-size="27.5" text-anchor="start" textLength="80.5" lengthAdjust="spacingAndGlyphs">Cluster</text>
<line x1="1547" y1="572.4" x2="1592" y2="572.4" stroke="#f01818" stroke-width="5" stroke-linecap="round"/>
<line x1="1548" y1="596.5" x2="1593" y2="596.5" stroke="#1414f0" stroke-width="5" stroke-linecap="round"/>
<line x1="1553.5" y1="654.4" x2="1592.5" y2="654.4" stroke="#f01818" stroke-width="5" stroke-linecap="round" stroke-dasharray="0.1 9.5"/>
<line x1="1553.5" y1="678.2" x2="1592.5" y2="678.2" stroke="#1414f0" stroke-width="5" stroke-linecap="round" stroke-dasharray="0.1 9.5"/>
<text x="1610.5" y="575.7" font-family="'Liberation Serif', 'Times New Roman', serif" font-size="31" font-style="italic" font-weight="bold" fill="#111" textLength="21.5" lengthAdjust="spacingAndGlyphs">M</text>
<line x1="1614" y1="549.7" x2="1632.5" y2="549.7" stroke="#111" stroke-width="1.6"/>
<path d="M1634.5,549.7 l-5,-3.2 l1.2,3.2 l-1.2,3.2 Z" fill="#111"/>
<text x="1636.5" y="581.7" font-family="'Liberation Sans', Arial, sans-serif" font-size="18" fill="#111" stroke="#111" stroke-width="0.45">Co</text>
<rect x="1662.5" y="558.6" width="15.5" height="3.6" fill="#111"/>
<rect x="1662.5" y="565.2" width="15.5" height="3.6" fill="#111"/>
<rect x="1661.7" y="591.6" width="15.5" height="3.6" fill="#111"/>
<rect x="1661.7" y="598.2" width="15.5" height="3.6" fill="#111"/>
<rect x="1666.2" y="644.5" width="15.5" height="3.6" fill="#111"/>
<rect x="1666.2" y="651.1" width="15.5" height="3.6" fill="#111"/>
<rect x="1665.4" y="674.5" width="15.5" height="3.6" fill="#111"/>
<rect x="1665.4" y="681.1" width="15.5" height="3.6" fill="#111"/>
<line x1="1692.9" y1="557.9" x2="1692.9" y2="575.7" stroke="#f01818" stroke-width="2.8"/>
<path d="M1692.9,547.4 L1686.9,558.9 L1698.9,558.9 Z" fill="#f01818"/>
<line x1="1692.5" y1="588.3" x2="1692.5" y2="602.3" stroke="#1414f0" stroke-width="2.8"/>
<path d="M1692.5,612.8 L1686.5,601.3 L1698.5,601.3 Z" fill="#1414f0"/>
<line x1="1696.6" y1="633.7" x2="1696.6" y2="651.4" stroke="#f01818" stroke-width="2.8"/>
<path d="M1696.6,623.2 L1690.6,634.7 L1702.6,634.7 Z" fill="#f01818"/>
<line x1="1696.6" y1="664" x2="1696.6" y2="678.1" stroke="#1414f0" stroke-width="2.8"/>
<path d="M1696.6,688.6 L1690.6,677.1 L1702.6,677.1 Z" fill="#1414f0"/>
<rect x="1439.4" y="525.2" width="548.8" height="453.4" fill="none" stroke="#262626" stroke-width="2"/>
<line x1="1430.4" y1="953.4" x2="1439.4" y2="953.4" stroke="#262626" stroke-width="1.8"/>
<text x="1421.5" y="962.6" font-family="'Liberation Sans', Arial, sans-serif" font-size="30.8" text-anchor="end" textLength="26" lengthAdjust="spacingAndGlyphs">-2</text>
<line x1="1434.9" y1="903" x2="1439.4" y2="903" stroke="#262626" stroke-width="1.8"/>
<line x1="1430.4" y1="852.6" x2="1439.4" y2="852.6" stroke="#262626" stroke-width="1.8"/>
<text x="1421.5" y="861.8" font-family="'Liberation Sans', Arial, sans-serif" font-size="30.8" text-anchor="end" textLength="26" lengthAdjust="spacingAndGlyphs">-1</text>
<line x1="1434.9" y1="802.2" x2="1439.4" y2="802.2" stroke="#262626" stroke-width="1.8"/>
<line x1="1430.4" y1="751.8" x2="1439.4" y2="751.8" stroke="#262626" stroke-width="1.8"/>
<text x="1421.5" y="761" font-family="'Liberation Sans', Arial, sans-serif" font-size="30.8" text-anchor="end" >0</text>
<line x1="1434.9" y1="701.4" x2="1439.4" y2="701.4" stroke="#262626" stroke-width="1.8"/>
<line x1="1430.4" y1="651" x2="1439.4" y2="651" stroke="#262626" stroke-width="1.8"/>
<text x="1421.5" y="660.2" font-family="'Liberation Sans', Arial, sans-serif" font-size="30.8" text-anchor="end" >1</text>
<line x1="1434.9" y1="600.6" x2="1439.4" y2="600.6" stroke="#262626" stroke-width="1.8"/>
<line x1="1430.4" y1="550.2" x2="1439.4" y2="550.2" stroke="#262626" stroke-width="1.8"/>
<text x="1421.5" y="559.4" font-family="'Liberation Sans', Arial, sans-serif" font-size="30.8" text-anchor="end" >2</text>
<line x1="1439.3" y1="978.6" x2="1439.3" y2="983.1" stroke="#262626" stroke-width="1.8"/>
<line x1="1987.3" y1="978.6" x2="1987.3" y2="983.1" stroke="#262626" stroke-width="1.8"/>
<line x1="1494.1" y1="978.6" x2="1494.1" y2="987.6" stroke="#262626" stroke-width="1.8"/>
<line x1="1494.1" y1="525.2" x2="1494.1" y2="531.7" stroke="#262626" stroke-width="1.6"/>
<text x="1493.1" y="1017" font-family="'Liberation Sans', Arial, sans-serif" font-size="30.8" text-anchor="middle" textLength="26" lengthAdjust="spacingAndGlyphs">-2</text>
<line x1="1548.9" y1="978.6" x2="1548.9" y2="983.1" stroke="#262626" stroke-width="1.8"/>
<line x1="1548.9" y1="525.2" x2="1548.9" y2="531.7" stroke="#262626" stroke-width="1.6"/>
<line x1="1603.7" y1="978.6" x2="1603.7" y2="987.6" stroke="#262626" stroke-width="1.8"/>
<line x1="1603.7" y1="525.2" x2="1603.7" y2="531.7" stroke="#262626" stroke-width="1.6"/>
<text x="1602.7" y="1017" font-family="'Liberation Sans', Arial, sans-serif" font-size="30.8" text-anchor="middle" textLength="26" lengthAdjust="spacingAndGlyphs">-1</text>
<line x1="1658.5" y1="978.6" x2="1658.5" y2="983.1" stroke="#262626" stroke-width="1.8"/>
<line x1="1658.5" y1="525.2" x2="1658.5" y2="531.7" stroke="#262626" stroke-width="1.6"/>
<line x1="1713.3" y1="978.6" x2="1713.3" y2="987.6" stroke="#262626" stroke-width="1.8"/>
<line x1="1713.3" y1="525.2" x2="1713.3" y2="531.7" stroke="#262626" stroke-width="1.6"/>
<text x="1713.3" y="1017" font-family="'Liberation Sans', Arial, sans-serif" font-size="30.8" text-anchor="middle" >0</text>
<line x1="1768.1" y1="978.6" x2="1768.1" y2="983.1" stroke="#262626" stroke-width="1.8"/>
<line x1="1768.1" y1="525.2" x2="1768.1" y2="531.7" stroke="#262626" stroke-width="1.6"/>
<line x1="1822.9" y1="978.6" x2="1822.9" y2="987.6" stroke="#262626" stroke-width="1.8"/>
<line x1="1822.9" y1="525.2" x2="1822.9" y2="531.7" stroke="#262626" stroke-width="1.6"/>
<text x="1822.9" y="1017" font-family="'Liberation Sans', Arial, sans-serif" font-size="30.8" text-anchor="middle" >1</text>
<line x1="1877.7" y1="978.6" x2="1877.7" y2="983.1" stroke="#262626" stroke-width="1.8"/>
<line x1="1877.7" y1="525.2" x2="1877.7" y2="531.7" stroke="#262626" stroke-width="1.6"/>
<line x1="1932.5" y1="978.6" x2="1932.5" y2="987.6" stroke="#262626" stroke-width="1.8"/>
<line x1="1932.5" y1="525.2" x2="1932.5" y2="531.7" stroke="#262626" stroke-width="1.6"/>
<text x="1932.5" y="1017" font-family="'Liberation Sans', Arial, sans-serif" font-size="30.8" text-anchor="middle" >2</text>
<line x1="1981.7" y1="569.8" x2="1988.2" y2="569.8" stroke="#262626" stroke-width="1.6"/>
<line x1="1981.7" y1="615.3" x2="1988.2" y2="615.3" stroke="#262626" stroke-width="1.6"/>
<line x1="1981.7" y1="660.8" x2="1988.2" y2="660.8" stroke="#262626" stroke-width="1.6"/>
<line x1="1981.7" y1="706.3" x2="1988.2" y2="706.3" stroke="#262626" stroke-width="1.6"/>
<line x1="1981.7" y1="751.8" x2="1988.2" y2="751.8" stroke="#262626" stroke-width="1.6"/>
<line x1="1981.7" y1="797.3" x2="1988.2" y2="797.3" stroke="#262626" stroke-width="1.6"/>
<line x1="1981.7" y1="842.8" x2="1988.2" y2="842.8" stroke="#262626" stroke-width="1.6"/>
<line x1="1981.7" y1="888.3" x2="1988.2" y2="888.3" stroke="#262626" stroke-width="1.6"/>
<line x1="1981.7" y1="933.8" x2="1988.2" y2="933.8" stroke="#262626" stroke-width="1.6"/>
<text transform="translate(1370.8,743.3) rotate(-90)" x="0" y="0" font-family="'Liberation Sans', Arial, sans-serif" font-size="32.3" text-anchor="middle">Current (nA)</text>
<text x="1635" y="1066" font-family="'Liberation Sans', Arial, sans-serif" font-size="31" text-anchor="start" textLength="158" lengthAdjust="spacingAndGlyphs">Voltage (V)</text>
<text x="1308" y="37.9" font-family="'Liberation Serif', 'Times New Roman', serif" font-size="51" text-anchor="start" >(c)</text>
</svg></body></html>
